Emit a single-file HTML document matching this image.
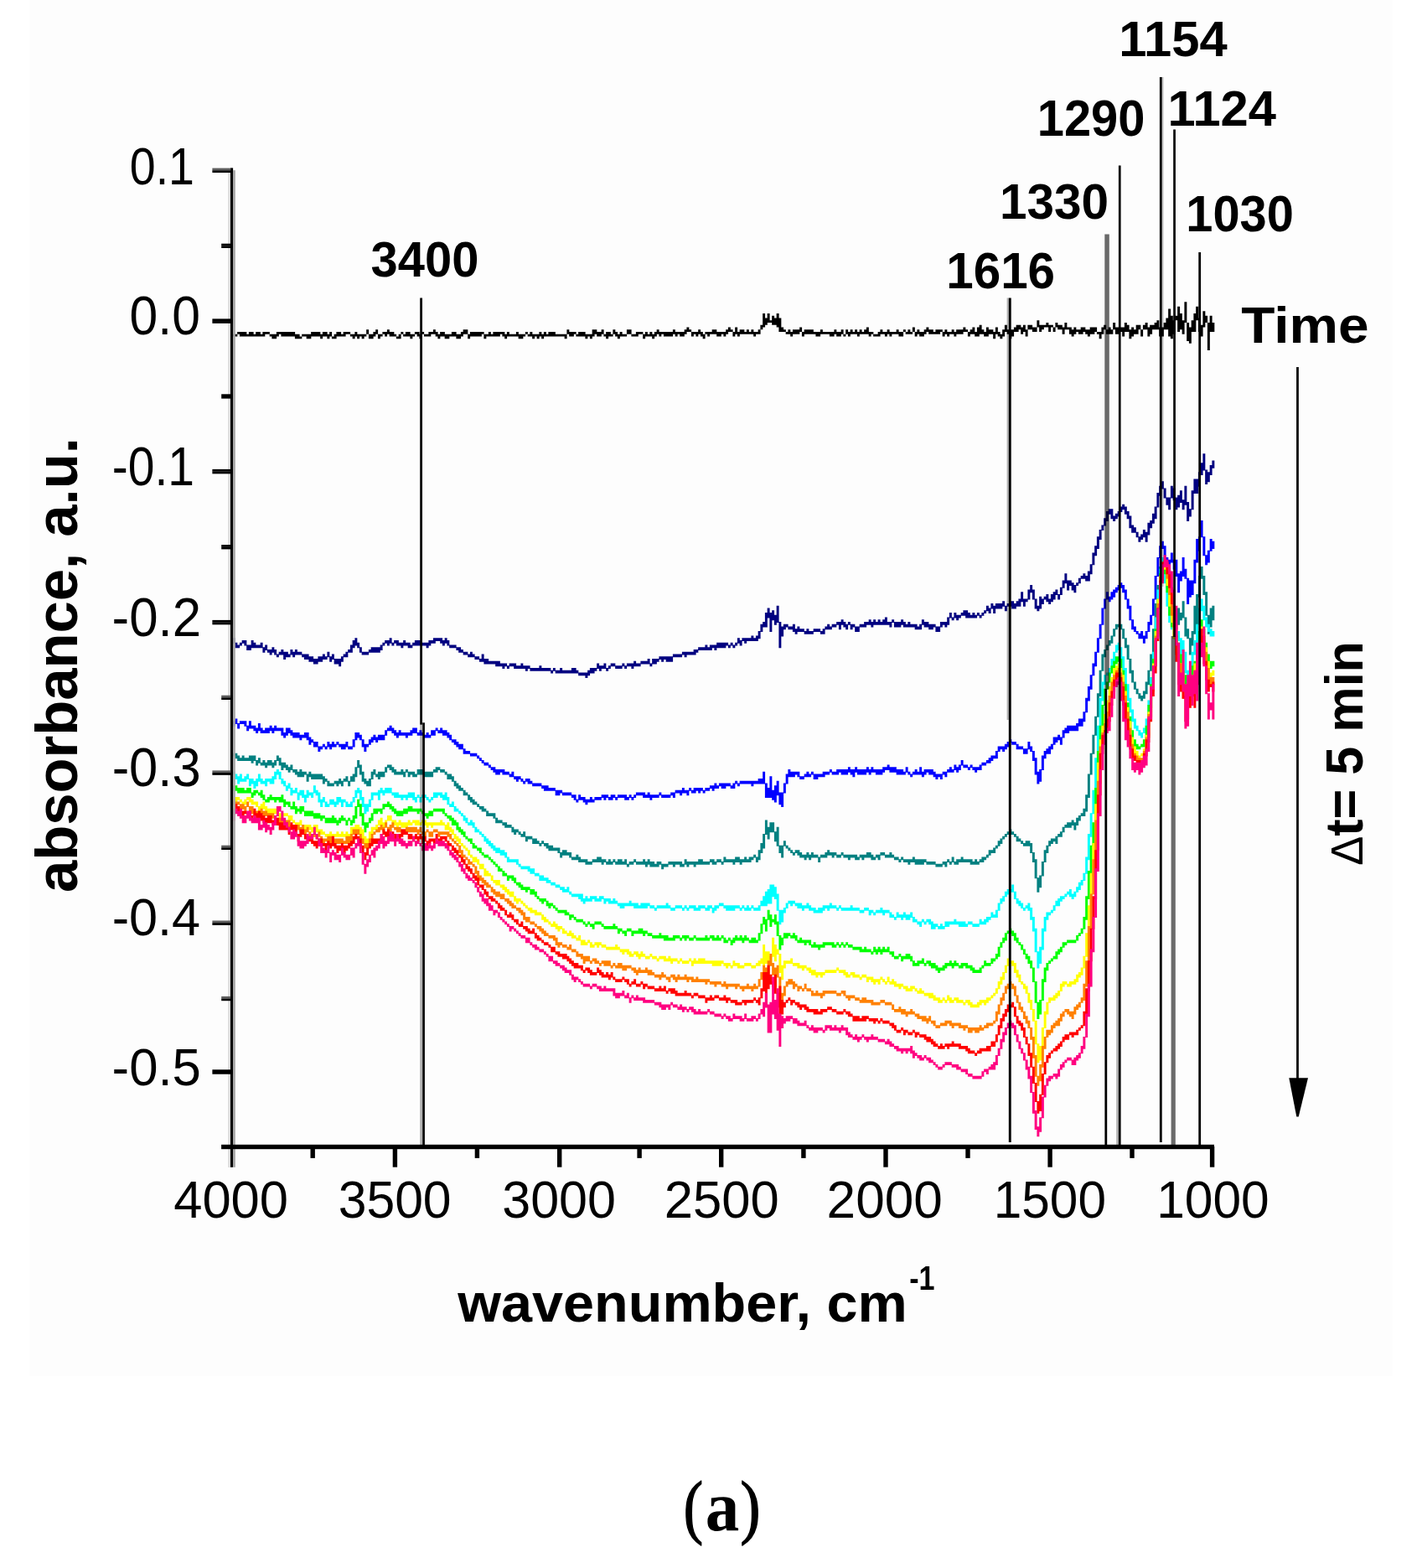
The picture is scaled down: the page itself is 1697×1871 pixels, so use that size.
<!DOCTYPE html>
<html lang="en"><head><meta charset="utf-8"><title>FTIR absorbance spectra</title>
<style>
html,body{margin:0;padding:0;background:#ffffff}
body{width:1697px;height:1871px;overflow:hidden}
svg{display:block}
text{font-family:"Liberation Sans",sans-serif;fill:#000}
.b{font-weight:700}
.ser{font-family:"Liberation Serif",serif}
.par{stroke:#000;stroke-width:1.5px;stroke-linejoin:round}
</style></head><body>
<svg width="1697" height="1871" viewBox="0 0 1697 1871">
<rect x="0" y="0" width="1697" height="1871" fill="#ffffff"/>
<rect x="35" y="0" width="1627" height="1642" fill="#fdfdfd"/>
<g>
<g transform="scale(2.75)" fill="none" stroke-width="1.07">
<path stroke="#000000" d="M100.5 144V146M101.5 145V146M102.5 145V146M103.5 144V145M104.5 144V146M105.5 144V146M106.5 144V146M107.5 145V146M108.5 144V146M109.5 144V146M110.5 145V146M111.5 144V146M112.5 144V146M113.5 145V146M114.5 144V146M115.5 144V145M116.5 144V145M117.5 145V146M118.5 145V147M119.5 145V147M120.5 144V146M121.5 144V145M122.5 144V146M123.5 144V146M124.5 144V146M125.5 144V146M126.5 144V146M127.5 144V146M128.5 145V147M129.5 145V147M130.5 146V147M131.5 145V146M132.5 145V146M133.5 145V147M134.5 145V147M135.5 144V146M136.5 144V146M137.5 144V146M138.5 144V146M139.5 145V147M140.5 144V146M141.5 144V146M142.5 145V147M143.5 144V146M144.5 146V147M145.5 145V147M146.5 144V146M147.5 144V146M148.5 145V146M149.5 144V146M150.5 144V145M151.5 144V145M152.5 145V146M153.5 145V147M154.5 144V146M155.5 145V147M156.5 145V146M157.5 145V147M158.5 145V146M159.5 143V145M160.5 145V147M161.5 145V147M162.5 144V146M163.5 143V145M164.5 145V147M165.5 145V146M166.5 144V145M167.5 144V146M168.5 143V145M169.5 144V146M170.5 144V146M171.5 145V146M172.5 146V147M173.5 145V147M174.5 144V145M175.5 145V146M176.5 144V146M177.5 144V146M178.5 145V147M179.5 145V146M180.5 144V145M181.5 144V146M182.5 145V147M183.5 144V145M184.5 145V146M185.5 145V146M186.5 144V146M187.5 144V145M188.5 143V145M189.5 144V146M190.5 145V147M191.5 144V146M192.5 144V146M193.5 145V147M194.5 145V147M195.5 145V146M196.5 144V146M197.5 144V146M198.5 145V147M199.5 145V147M200.5 144V146M201.5 143V145M202.5 143V145M203.5 145V147M204.5 144V146M205.5 144V146M206.5 144V146M207.5 144V146M208.5 144V146M209.5 144V145M210.5 145V147M211.5 145V146M212.5 144V146M213.5 145V146M214.5 144V146M215.5 144V146M216.5 144V146M217.5 144V145M218.5 144V146M219.5 145V147M220.5 144V146M221.5 145V146M222.5 145V146M223.5 145V146M224.5 144V146M225.5 145V147M226.5 145V147M227.5 145V146M228.5 144V145M229.5 145V146M230.5 144V146M231.5 145V147M232.5 145V146M233.5 145V147M234.5 144V146M235.5 145V147M236.5 144V146M237.5 145V146M238.5 144V146M239.5 144V146M240.5 144V146M241.5 145V146M242.5 145V146M243.5 145V146M244.5 145V146M245.5 145V147M246.5 143V145M247.5 144V146M248.5 144V146M249.5 144V145M250.5 145V146M251.5 144V146M252.5 144V146M253.5 144V146M254.5 145V147M255.5 145V146M256.5 145V147M257.5 143V146M258.5 143V145M259.5 144V146M260.5 144V146M261.5 143V145M262.5 145V146M263.5 144V147M264.5 144V146M265.5 145V146M266.5 143V145M267.5 144V146M268.5 145V147M269.5 144V146M270.5 145V146M271.5 145V146M272.5 143V145M273.5 143V145M274.5 145V146M275.5 145V146M276.5 144V146M277.5 144V145M278.5 144V145M279.5 145V147M280.5 144V146M281.5 145V146M282.5 144V146M283.5 145V147M284.5 144V146M285.5 143V145M286.5 144V146M287.5 144V145M288.5 144V146M289.5 144V146M290.5 144V146M291.5 144V146M292.5 143V145M293.5 144V146M294.5 144V145M295.5 144V146M296.5 144V146M297.5 143V145M298.5 142V144M299.5 143V144M300.5 144V146M301.5 144V145M302.5 144V146M303.5 143V145M304.5 144V146M305.5 145V147M306.5 144V145M307.5 144V146M308.5 144V145M309.5 143V145M310.5 143V145M311.5 144V146M312.5 144V146M313.5 144V145M314.5 144V146M315.5 143V145M316.5 142V144M317.5 143V144M318.5 144V146M319.5 142V145M320.5 144V146M321.5 143V145M322.5 143V145M323.5 144V145M324.5 143V145M325.5 144V145M326.5 143V145M327.5 144V146M328.5 144V145M329.5 143V145M330.5 141V143M331.5 136V142M332.5 138V141M333.5 136V140M334.5 139V140M335.5 137V141M336.5 138V141M337.5 136V142M338.5 138V144M339.5 142V144M340.5 143V144M341.5 144V145M342.5 143V145M343.5 144V146M344.5 143V145M345.5 143V145M346.5 143V145M347.5 142V144M348.5 144V146M349.5 143V145M350.5 143V145M351.5 143V145M352.5 143V145M353.5 144V145M354.5 144V146M355.5 144V146M356.5 143V145M357.5 144V145M358.5 144V145M359.5 144V145M360.5 144V146M361.5 144V146M362.5 143V145M363.5 144V146M364.5 144V146M365.5 143V145M366.5 145V146M367.5 143V145M368.5 144V146M369.5 143V145M370.5 144V145M371.5 143V145M372.5 144V146M373.5 143V145M374.5 144V145M375.5 143V145M376.5 142V145M377.5 144V146M378.5 144V145M379.5 145V146M380.5 145V146M381.5 144V146M382.5 143V145M383.5 144V145M384.5 144V146M385.5 143V145M386.5 144V146M387.5 144V145M388.5 144V145M389.5 143V145M390.5 144V146M391.5 144V146M392.5 143V144M393.5 144V145M394.5 143V145M395.5 144V145M396.5 142V144M397.5 144V146M398.5 143V145M399.5 144V146M400.5 144V146M401.5 143V145M402.5 142V144M403.5 143V145M404.5 143V145M405.5 144V145M406.5 143V145M407.5 143V145M408.5 143V144M409.5 144V146M410.5 143V145M411.5 144V146M412.5 144V145M413.5 143V145M414.5 144V146M415.5 143V145M416.5 143V145M417.5 143V145M418.5 142V144M419.5 143V144M420.5 144V146M421.5 143V145M422.5 142V145M423.5 144V146M424.5 142V146M425.5 141V145M426.5 143V145M427.5 144V146M428.5 142V146M429.5 143V145M430.5 143V145M431.5 144V147M432.5 142V145M433.5 144V146M434.5 145V147M435.5 143V146M436.5 141V144M437.5 143V145M438.5 143V147M439.5 143V146M440.5 142V144M441.5 141V144M442.5 141V143M443.5 142V145M444.5 141V144M445.5 143V146M446.5 141V143M447.5 141V143M448.5 142V144M449.5 142V144M450.5 139V142M451.5 141V144M452.5 141V143M453.5 141V142M454.5 140V142M455.5 141V144M456.5 141V142M457.5 142V144M458.5 140V142M459.5 141V143M460.5 141V143M461.5 142V145M462.5 140V143M463.5 142V143M464.5 142V145M465.5 143V146M466.5 142V145M467.5 143V144M468.5 143V145M469.5 142V145M470.5 142V144M471.5 143V145M472.5 143V146M473.5 142V145M474.5 142V145M475.5 142V144M476.5 144V145M477.5 144V147M478.5 142V145M479.5 141V143M480.5 143V145M481.5 142V145M482.5 143V145M483.5 140V143M484.5 142V145M485.5 142V145M486.5 142V144M487.5 142V146M488.5 140V144M489.5 141V144M490.5 143V147M491.5 142V146M492.5 143V145M493.5 141V145M494.5 141V143M495.5 143V146M496.5 141V143M497.5 140V143M498.5 142V146M499.5 141V145M500.5 141V143M501.5 140V143M502.5 139V143M503.5 142V146M504.5 142V146M505.5 140V143M506.5 138V143M507.5 134V146M508.5 137V147M509.5 139V145M510.5 137V139M511.5 133V144M512.5 136V143M513.5 139V145M514.5 131V140M515.5 140V148M516.5 142V149M517.5 139V144M518.5 136V144M519.5 133V139M520.5 138V144M521.5 141V146M522.5 135V142M523.5 137V140M524.5 140V152M525.5 137V144M526.5 140V144"/>
<path stroke="#000080" d="M100.5 278.86V280.14M101.5 276.86V279.14M102.5 278.86V281.14M103.5 279.86V281.14M104.5 278.86V280.14M105.5 277.86V279.14M106.5 277.86V280.14M107.5 279.86V282.14M108.5 279.86V282.14M109.5 277.86V281.14M110.5 278.86V281.14M111.5 279.86V281.14M112.5 279.86V281.14M113.5 278.86V281.14M114.5 280.86V283.14M115.5 279.86V282.14M116.5 281.86V283.14M117.5 281.86V284.14M118.5 280.86V283.14M119.5 281.86V284.14M120.5 283.86V285.14M121.5 282.86V284.14M122.5 281.86V284.14M123.5 282.86V286.14M124.5 282.86V285.14M125.5 283.86V285.14M126.5 281.86V284.14M127.5 282.86V285.14M128.5 281.86V284.14M129.5 282.86V284.14M130.5 282.86V284.14M131.5 283.86V285.14M132.5 283.86V286.14M133.5 283.86V286.14M134.5 284.86V287.14M135.5 284.86V287.14M136.5 285.86V288.14M137.5 285.86V288.14M138.5 284.86V287.14M139.5 284.86V287.14M140.5 283.86V286.14M141.5 284.86V286.14M142.5 282.86V285.14M143.5 284.86V287.14M144.5 283.86V286.14M145.5 285.86V288.14M146.5 285.86V288.14M147.5 285.86V289.14M148.5 284.86V287.14M149.5 283.86V285.14M150.5 282.86V285.14M151.5 281.86V283.14M152.5 279.86V283.14M153.5 277.86V281.14M154.5 276.86V280.14M155.5 278.86V281.14M156.5 280.86V283.14M157.5 282.86V284.14M158.5 282.86V284.14M159.5 282.86V284.14M160.5 281.86V283.14M161.5 280.86V283.14M162.5 280.86V283.14M163.5 280.86V283.14M164.5 280.86V283.14M165.5 279.86V282.14M166.5 278.86V280.14M167.5 277.86V279.14M168.5 277.86V280.14M169.5 276.86V279.14M170.5 278.86V280.14M171.5 277.86V279.14M172.5 277.86V280.14M173.5 278.86V280.14M174.5 278.86V281.14M175.5 277.86V280.14M176.5 278.86V280.14M177.5 278.86V281.14M178.5 279.86V281.14M179.5 278.86V280.14M180.5 277.86V280.14M181.5 277.86V280.14M182.5 277.86V280.14M183.5 278.86V280.14M184.5 278.86V280.14M185.5 278.86V281.14M186.5 277.86V280.14M187.5 277.86V279.14M188.5 276.86V279.14M189.5 276.86V278.14M190.5 276.86V278.14M191.5 276.86V279.14M192.5 277.86V280.14M193.5 276.86V279.14M194.5 277.86V280.14M195.5 279.86V281.14M196.5 279.86V281.14M197.5 279.86V281.14M198.5 280.86V282.14M199.5 280.86V283.14M200.5 281.86V283.14M201.5 282.86V284.14M202.5 282.86V284.14M203.5 283.86V285.14M204.5 282.86V285.14M205.5 283.86V285.14M206.5 284.86V286.14M207.5 284.86V286.14M208.5 285.86V287.14M209.5 283.86V287.14M210.5 285.86V288.14M211.5 285.86V288.14M212.5 286.86V288.14M213.5 286.86V288.14M214.5 286.86V288.14M215.5 286.86V289.14M216.5 286.86V289.14M217.5 287.86V289.14M218.5 287.86V290.14M219.5 287.86V289.14M220.5 288.86V290.14M221.5 287.86V289.14M222.5 287.86V289.14M223.5 287.86V290.14M224.5 288.86V290.14M225.5 288.86V290.14M226.5 287.86V290.14M227.5 288.86V290.14M228.5 288.86V291.14M229.5 288.86V290.14M230.5 289.86V291.14M231.5 289.86V291.14M232.5 289.86V291.14M233.5 289.86V291.14M234.5 288.86V291.14M235.5 289.86V291.14M236.5 289.86V291.14M237.5 289.86V291.14M238.5 289.86V291.14M239.5 290.86V292.14M240.5 289.86V291.14M241.5 290.86V292.14M242.5 290.86V292.14M243.5 289.86V292.14M244.5 290.86V292.14M245.5 290.86V292.14M246.5 290.86V292.14M247.5 290.86V292.14M248.5 289.86V292.14M249.5 289.86V292.14M250.5 290.86V292.14M251.5 291.86V293.14M252.5 291.86V293.14M253.5 291.86V293.14M254.5 291.86V294.14M255.5 290.86V293.14M256.5 289.86V292.14M257.5 289.86V292.14M258.5 289.86V291.14M259.5 287.86V290.14M260.5 288.86V291.14M261.5 288.86V290.14M262.5 287.86V290.14M263.5 289.86V291.14M264.5 288.86V290.14M265.5 287.86V289.14M266.5 287.86V289.14M267.5 288.86V290.14M268.5 288.86V290.14M269.5 288.86V290.14M270.5 287.86V289.14M271.5 288.86V290.14M272.5 287.86V289.14M273.5 287.86V289.14M274.5 287.86V290.14M275.5 286.86V289.14M276.5 287.86V289.14M277.5 287.86V289.14M278.5 286.86V288.14M279.5 286.86V288.14M280.5 286.86V288.14M281.5 285.86V288.14M282.5 287.86V289.14M283.5 285.86V288.14M284.5 285.86V288.14M285.5 285.86V287.14M286.5 284.86V286.14M287.5 284.86V287.14M288.5 284.86V286.14M289.5 284.86V287.14M290.5 284.86V287.14M291.5 284.86V287.14M292.5 283.86V285.14M293.5 283.86V285.14M294.5 283.86V285.14M295.5 283.86V285.14M296.5 282.86V284.14M297.5 282.86V285.14M298.5 282.86V284.14M299.5 282.86V284.14M300.5 282.86V284.14M301.5 281.86V284.14M302.5 281.86V283.14M303.5 280.86V282.14M304.5 280.86V282.14M305.5 280.86V282.14M306.5 279.86V282.14M307.5 280.86V282.14M308.5 279.86V282.14M309.5 279.86V281.14M310.5 279.86V282.14M311.5 278.86V281.14M312.5 278.86V281.14M313.5 278.86V281.14M314.5 278.86V281.14M315.5 278.86V280.14M316.5 279.86V281.14M317.5 278.86V280.14M318.5 279.86V281.14M319.5 278.86V280.14M320.5 276.86V279.14M321.5 277.86V280.14M322.5 276.86V278.14M323.5 276.86V279.14M324.5 276.86V278.14M325.5 276.86V278.14M326.5 275.86V278.14M327.5 276.86V278.14M328.5 275.86V278.14M329.5 273.86V277.14M330.5 270.86V274.14M331.5 269.86V272.14M332.5 265.86V272.14M333.5 263.86V268.14M334.5 265.86V274.14M335.5 264.86V269.14M336.5 266.86V271.14M337.5 262.86V270.14M338.5 269.86V281.14M339.5 271.86V276.14M340.5 270.86V273.14M341.5 270.86V272.14M342.5 271.86V273.14M343.5 271.86V273.14M344.5 270.86V274.14M345.5 272.86V275.14M346.5 271.86V274.14M347.5 272.86V274.14M348.5 272.86V274.14M349.5 273.86V275.14M350.5 272.86V275.14M351.5 273.86V275.14M352.5 273.86V275.14M353.5 272.86V274.14M354.5 272.86V274.14M355.5 272.86V274.14M356.5 273.86V275.14M357.5 272.86V275.14M358.5 271.86V273.14M359.5 270.86V273.14M360.5 271.86V273.14M361.5 270.86V272.14M362.5 270.86V272.14M363.5 269.86V271.14M364.5 269.86V273.14M365.5 268.86V271.14M366.5 269.86V272.14M367.5 270.86V273.14M368.5 269.86V271.14M369.5 270.86V273.14M370.5 270.86V272.14M371.5 271.86V274.14M372.5 271.86V274.14M373.5 270.86V272.14M374.5 270.86V272.14M375.5 269.86V272.14M376.5 269.86V271.14M377.5 268.86V271.14M378.5 269.86V272.14M379.5 268.86V271.14M380.5 269.86V271.14M381.5 268.86V271.14M382.5 269.86V271.14M383.5 268.86V271.14M384.5 267.86V271.14M385.5 269.86V271.14M386.5 269.86V272.14M387.5 268.86V270.14M388.5 269.86V272.14M389.5 269.86V272.14M390.5 269.86V272.14M391.5 268.86V271.14M392.5 269.86V272.14M393.5 270.86V272.14M394.5 269.86V272.14M395.5 270.86V272.14M396.5 270.86V272.14M397.5 270.86V273.14M398.5 271.86V273.14M399.5 270.86V273.14M400.5 268.86V271.14M401.5 269.86V272.14M402.5 269.86V272.14M403.5 270.86V273.14M404.5 270.86V273.14M405.5 270.86V272.14M406.5 271.86V274.14M407.5 271.86V274.14M408.5 269.86V272.14M409.5 269.86V271.14M410.5 269.86V272.14M411.5 267.86V271.14M412.5 265.86V268.14M413.5 267.86V269.14M414.5 265.86V268.14M415.5 266.86V269.14M416.5 266.86V268.14M417.5 265.86V267.14M418.5 264.86V267.14M419.5 264.86V268.14M420.5 265.86V268.14M421.5 266.86V268.14M422.5 265.86V268.14M423.5 266.86V268.14M424.5 265.86V267.14M425.5 266.86V268.14M426.5 265.86V267.14M427.5 264.86V266.14M428.5 262.86V265.14M429.5 263.86V266.14M430.5 261.86V264.14M431.5 262.86V266.14M432.5 261.86V264.14M433.5 261.86V264.14M434.5 261.86V264.14M435.5 260.86V263.14M436.5 262.86V265.14M437.5 261.86V263.14M438.5 260.86V263.14M439.5 260.86V264.14M440.5 261.86V264.14M441.5 260.86V263.14M442.5 259.86V263.14M443.5 256.86V261.14M444.5 259.86V263.14M445.5 259.86V261.14M446.5 255.86V260.14M447.5 253.86V257.14M448.5 255.86V260.14M449.5 259.86V264.14M450.5 262.86V265.14M451.5 258.86V264.14M452.5 259.86V262.14M453.5 258.86V260.14M454.5 257.86V261.14M455.5 259.86V262.14M456.5 257.86V261.14M457.5 256.86V260.14M458.5 255.86V258.14M459.5 257.86V260.14M460.5 254.86V258.14M461.5 251.86V255.14M462.5 248.86V253.14M463.5 251.86V256.14M464.5 251.86V254.14M465.5 252.86V256.14M466.5 253.86V257.14M467.5 252.86V254.14M468.5 250.86V253.14M469.5 249.86V251.14M470.5 248.86V251.14M471.5 249.86V252.14M472.5 247.86V252.14M473.5 244.86V249.14M474.5 239.86V245.14M475.5 236.86V241.14M476.5 232.86V238.14M477.5 229.86V234.14M478.5 227.86V230.14M479.5 224.86V228.14M480.5 221.86V226.14M481.5 220.86V223.14M482.5 220.86V225.14M483.5 223.86V226.14M484.5 222.86V225.14M485.5 221.86V224.14M486.5 219.86V222.14M487.5 218.86V221.14M488.5 219.86V223.14M489.5 221.86V225.14M490.5 223.86V229.14M491.5 227.86V231.14M492.5 228.86V231.14M493.5 230.86V233.14M494.5 232.86V235.14M495.5 231.86V234.14M496.5 229.86V233.14M497.5 230.86V235.14M498.5 226.86V232.14M499.5 225.86V229.14M500.5 222.86V227.14M501.5 219.86V225.14M502.5 213.86V220.14M503.5 210.86V215.14M504.5 208.86V212.14M505.5 211.86V216.14M506.5 215.86V219.14M507.5 215.86V221.14M508.5 210.86V216.14M509.5 211.86V217.14M510.5 215.86V221.14M511.5 214.86V220.14M512.5 212.86V218.14M513.5 216.86V221.14M514.5 210.86V219.14M515.5 217.86V226.14M516.5 220.86V224.14M517.5 212.86V221.14M518.5 207.86V214.14M519.5 207.86V214.14M520.5 204.86V211.14M521.5 200.86V206.14M522.5 196.86V204.14M523.5 203.86V210.14M524.5 204.86V209.14M525.5 201.86V206.14M526.5 199.86V203.14"/>
<path stroke="#0000ff" d="M100.5 312.86V314.14M101.5 312.86V315.14M102.5 311.86V314.14M103.5 313.86V316.14M104.5 312.86V314.14M105.5 312.86V314.14M106.5 312.86V315.14M107.5 314.86V317.14M108.5 312.86V316.14M109.5 314.86V316.14M110.5 314.86V317.14M111.5 315.86V318.14M112.5 313.86V317.14M113.5 315.86V318.14M114.5 316.86V318.14M115.5 315.86V318.14M116.5 315.86V318.14M117.5 314.86V317.14M118.5 315.86V318.14M119.5 314.86V317.14M120.5 315.86V317.14M121.5 315.86V317.14M122.5 315.86V319.14M123.5 317.86V320.14M124.5 315.86V319.14M125.5 315.86V318.14M126.5 316.86V319.14M127.5 317.86V320.14M128.5 317.86V320.14M129.5 317.86V320.14M130.5 318.86V321.14M131.5 318.86V320.14M132.5 317.86V320.14M133.5 317.86V321.14M134.5 319.86V323.14M135.5 320.86V322.14M136.5 321.86V324.14M137.5 321.86V324.14M138.5 323.86V326.14M139.5 323.86V325.14M140.5 322.86V324.14M141.5 323.86V325.14M142.5 321.86V324.14M143.5 322.86V325.14M144.5 321.86V324.14M145.5 322.86V324.14M146.5 321.86V323.14M147.5 322.86V324.14M148.5 322.86V325.14M149.5 322.86V325.14M150.5 321.86V324.14M151.5 323.86V325.14M152.5 323.86V325.14M153.5 320.86V324.14M154.5 317.86V321.14M155.5 317.86V320.14M156.5 318.86V321.14M157.5 320.86V324.14M158.5 322.86V326.14M159.5 322.86V324.14M160.5 320.86V323.14M161.5 319.86V322.14M162.5 318.86V321.14M163.5 319.86V322.14M164.5 318.86V321.14M165.5 318.86V321.14M166.5 318.86V321.14M167.5 316.86V319.14M168.5 315.86V317.14M169.5 314.86V317.14M170.5 315.86V318.14M171.5 316.86V319.14M172.5 317.86V320.14M173.5 316.86V319.14M174.5 317.86V319.14M175.5 317.86V319.14M176.5 317.86V320.14M177.5 317.86V319.14M178.5 316.86V319.14M179.5 315.86V318.14M180.5 315.86V318.14M181.5 317.86V319.14M182.5 316.86V319.14M183.5 317.86V319.14M184.5 318.86V320.14M185.5 317.86V320.14M186.5 318.86V320.14M187.5 316.86V319.14M188.5 316.86V319.14M189.5 315.86V317.14M190.5 316.86V318.14M191.5 315.86V318.14M192.5 316.86V319.14M193.5 316.86V319.14M194.5 317.86V320.14M195.5 318.86V321.14M196.5 320.86V322.14M197.5 320.86V323.14M198.5 321.86V324.14M199.5 322.86V325.14M200.5 322.86V325.14M201.5 324.86V327.14M202.5 325.86V327.14M203.5 325.86V327.14M204.5 326.86V328.14M205.5 326.86V328.14M206.5 326.86V328.14M207.5 327.86V329.14M208.5 328.86V330.14M209.5 329.86V331.14M210.5 330.86V332.14M211.5 330.86V332.14M212.5 331.86V333.14M213.5 332.86V334.14M214.5 332.86V335.14M215.5 333.86V336.14M216.5 333.86V336.14M217.5 333.86V335.14M218.5 333.86V336.14M219.5 334.86V336.14M220.5 334.86V336.14M221.5 335.86V337.14M222.5 334.86V337.14M223.5 336.86V338.14M224.5 336.86V339.14M225.5 336.86V338.14M226.5 337.86V339.14M227.5 338.86V340.14M228.5 337.86V339.14M229.5 337.86V340.14M230.5 338.86V340.14M231.5 339.86V341.14M232.5 339.86V341.14M233.5 339.86V341.14M234.5 339.86V341.14M235.5 340.86V342.14M236.5 340.86V343.14M237.5 340.86V343.14M238.5 341.86V343.14M239.5 341.86V343.14M240.5 341.86V343.14M241.5 342.86V345.14M242.5 342.86V345.14M243.5 342.86V344.14M244.5 343.86V345.14M245.5 343.86V345.14M246.5 343.86V345.14M247.5 343.86V345.14M248.5 344.86V346.14M249.5 344.86V347.14M250.5 346.86V348.14M251.5 344.86V347.14M252.5 345.86V347.14M253.5 345.86V348.14M254.5 346.86V349.14M255.5 346.86V348.14M256.5 345.86V348.14M257.5 346.86V348.14M258.5 345.86V347.14M259.5 345.86V347.14M260.5 345.86V347.14M261.5 344.86V346.14M262.5 344.86V347.14M263.5 344.86V346.14M264.5 345.86V347.14M265.5 344.86V347.14M266.5 344.86V346.14M267.5 345.86V347.14M268.5 344.86V346.14M269.5 344.86V346.14M270.5 344.86V346.14M271.5 344.86V347.14M272.5 345.86V347.14M273.5 344.86V346.14M274.5 345.86V347.14M275.5 344.86V346.14M276.5 343.86V345.14M277.5 343.86V345.14M278.5 343.86V345.14M279.5 343.86V346.14M280.5 344.86V346.14M281.5 343.86V346.14M282.5 344.86V347.14M283.5 344.86V346.14M284.5 344.86V346.14M285.5 344.86V346.14M286.5 343.86V345.14M287.5 344.86V346.14M288.5 344.86V346.14M289.5 344.86V346.14M290.5 344.86V346.14M291.5 343.86V345.14M292.5 343.86V346.14M293.5 342.86V344.14M294.5 342.86V344.14M295.5 342.86V345.14M296.5 341.86V344.14M297.5 342.86V344.14M298.5 342.86V345.14M299.5 341.86V343.14M300.5 342.86V344.14M301.5 341.86V344.14M302.5 341.86V343.14M303.5 341.86V344.14M304.5 341.86V343.14M305.5 342.86V344.14M306.5 341.86V343.14M307.5 341.86V343.14M308.5 340.86V342.14M309.5 340.86V343.14M310.5 339.86V342.14M311.5 340.86V342.14M312.5 339.86V341.14M313.5 339.86V342.14M314.5 339.86V342.14M315.5 339.86V341.14M316.5 339.86V341.14M317.5 340.86V342.14M318.5 339.86V342.14M319.5 338.86V340.14M320.5 339.86V341.14M321.5 338.86V340.14M322.5 338.86V340.14M323.5 338.86V340.14M324.5 338.86V340.14M325.5 338.86V340.14M326.5 338.86V341.14M327.5 338.86V340.14M328.5 338.86V340.14M329.5 337.86V340.14M330.5 337.86V340.14M331.5 334.86V340.14M332.5 339.86V346.14M333.5 341.86V346.14M334.5 336.86V346.14M335.5 342.86V347.14M336.5 340.86V348.14M337.5 338.86V345.14M338.5 343.86V349.14M339.5 343.86V350.14M340.5 339.86V344.14M341.5 335.86V340.14M342.5 333.86V337.14M343.5 334.86V337.14M344.5 334.86V337.14M345.5 334.86V336.14M346.5 334.86V337.14M347.5 336.86V338.14M348.5 336.86V338.14M349.5 335.86V337.14M350.5 334.86V337.14M351.5 335.86V337.14M352.5 334.86V336.14M353.5 335.86V338.14M354.5 335.86V338.14M355.5 335.86V337.14M356.5 335.86V337.14M357.5 334.86V337.14M358.5 334.86V336.14M359.5 334.86V336.14M360.5 333.86V335.14M361.5 334.86V336.14M362.5 334.86V336.14M363.5 333.86V336.14M364.5 333.86V335.14M365.5 333.86V336.14M366.5 333.86V336.14M367.5 333.86V336.14M368.5 332.86V335.14M369.5 333.86V336.14M370.5 333.86V337.14M371.5 332.86V335.14M372.5 333.86V336.14M373.5 333.86V336.14M374.5 333.86V336.14M375.5 333.86V336.14M376.5 332.86V335.14M377.5 333.86V336.14M378.5 332.86V335.14M379.5 333.86V335.14M380.5 333.86V336.14M381.5 333.86V336.14M382.5 333.86V336.14M383.5 332.86V335.14M384.5 332.86V334.14M385.5 331.86V334.14M386.5 332.86V335.14M387.5 332.86V335.14M388.5 332.86V335.14M389.5 333.86V336.14M390.5 333.86V336.14M391.5 333.86V336.14M392.5 334.86V336.14M393.5 332.86V335.14M394.5 334.86V336.14M395.5 335.86V337.14M396.5 334.86V336.14M397.5 333.86V336.14M398.5 334.86V336.14M399.5 332.86V336.14M400.5 334.86V337.14M401.5 333.86V336.14M402.5 333.86V335.14M403.5 333.86V336.14M404.5 333.86V336.14M405.5 334.86V337.14M406.5 335.86V338.14M407.5 335.86V337.14M408.5 335.86V338.14M409.5 334.86V336.14M410.5 334.86V337.14M411.5 333.86V335.14M412.5 332.86V335.14M413.5 333.86V335.14M414.5 331.86V334.14M415.5 332.86V335.14M416.5 331.86V334.14M417.5 329.86V332.14M418.5 331.86V333.14M419.5 331.86V333.14M420.5 332.86V334.14M421.5 331.86V333.14M422.5 332.86V334.14M423.5 332.86V335.14M424.5 332.86V334.14M425.5 331.86V334.14M426.5 330.86V332.14M427.5 330.86V332.14M428.5 329.86V331.14M429.5 328.86V331.14M430.5 327.86V330.14M431.5 327.86V329.14M432.5 325.86V329.14M433.5 323.86V326.14M434.5 323.86V325.14M435.5 323.86V326.14M436.5 322.86V325.14M437.5 321.86V324.14M438.5 320.86V322.14M439.5 321.86V323.14M440.5 321.86V323.14M441.5 322.86V325.14M442.5 323.86V325.14M443.5 323.86V325.14M444.5 324.86V327.14M445.5 324.86V327.14M446.5 321.86V325.14M447.5 323.86V326.14M448.5 325.86V330.14M449.5 328.86V336.14M450.5 334.86V340.14M451.5 333.86V339.14M452.5 327.86V334.14M453.5 325.86V329.14M454.5 324.86V327.14M455.5 323.86V327.14M456.5 322.86V325.14M457.5 319.86V323.14M458.5 319.86V322.14M459.5 318.86V321.14M460.5 319.86V323.14M461.5 316.86V320.14M462.5 315.86V318.14M463.5 314.86V318.14M464.5 314.86V317.14M465.5 314.86V317.14M466.5 314.86V317.14M467.5 313.86V317.14M468.5 311.86V315.14M469.5 311.86V315.14M470.5 308.86V313.14M471.5 302.86V309.14M472.5 297.86V304.14M473.5 292.86V299.14M474.5 287.86V293.14M475.5 282.86V289.14M476.5 276.86V283.14M477.5 270.86V277.14M478.5 263.86V271.14M479.5 259.86V264.14M480.5 256.86V260.14M481.5 258.86V261.14M482.5 256.86V260.14M483.5 255.86V259.14M484.5 254.86V257.14M485.5 253.86V256.14M486.5 252.86V255.14M487.5 253.86V257.14M488.5 255.86V260.14M489.5 259.86V264.14M490.5 262.86V269.14M491.5 268.86V273.14M492.5 271.86V274.14M493.5 273.86V275.14M494.5 274.86V277.14M495.5 273.86V277.14M496.5 275.86V279.14M497.5 273.86V277.14M498.5 269.86V274.14M499.5 266.86V271.14M500.5 259.86V267.14M501.5 249.86V260.14M502.5 241.86V250.14M503.5 236.86V242.14M504.5 234.86V238.14M505.5 236.86V243.14M506.5 241.86V246.14M507.5 242.86V248.14M508.5 239.86V244.14M509.5 242.86V247.14M510.5 242.86V250.14M511.5 248.86V257.14M512.5 247.86V252.14M513.5 241.86V250.14M514.5 246.86V251.14M515.5 250.86V262.14M516.5 251.86V259.14M517.5 251.86V258.14M518.5 242.86V253.14M519.5 233.86V244.14M520.5 232.86V239.14M521.5 225.86V233.14M522.5 232.86V241.14M523.5 240.86V245.14M524.5 238.86V244.14M525.5 233.86V239.14M526.5 234.86V238.14"/>
<path stroke="#008080" d="M100.5 326.86V328.14M101.5 326.86V328.14M102.5 326.86V329.14M103.5 327.86V330.14M104.5 328.86V330.14M105.5 327.86V330.14M106.5 328.86V330.14M107.5 328.86V330.14M108.5 327.86V330.14M109.5 327.86V331.14M110.5 327.86V330.14M111.5 329.86V332.14M112.5 328.86V331.14M113.5 330.86V332.14M114.5 329.86V332.14M115.5 330.86V333.14M116.5 329.86V332.14M117.5 329.86V332.14M118.5 330.86V333.14M119.5 329.86V332.14M120.5 327.86V330.14M121.5 328.86V332.14M122.5 330.86V334.14M123.5 330.86V333.14M124.5 331.86V334.14M125.5 332.86V335.14M126.5 331.86V334.14M127.5 333.86V335.14M128.5 333.86V336.14M129.5 334.86V337.14M130.5 333.86V337.14M131.5 334.86V337.14M132.5 334.86V336.14M133.5 335.86V339.14M134.5 334.86V337.14M135.5 335.86V338.14M136.5 335.86V338.14M137.5 335.86V338.14M138.5 335.86V338.14M139.5 335.86V338.14M140.5 336.86V340.14M141.5 337.86V339.14M142.5 338.86V341.14M143.5 339.86V341.14M144.5 339.86V341.14M145.5 338.86V340.14M146.5 338.86V341.14M147.5 337.86V340.14M148.5 338.86V341.14M149.5 337.86V339.14M150.5 336.86V339.14M151.5 338.86V341.14M152.5 336.86V339.14M153.5 335.86V339.14M154.5 332.86V337.14M155.5 329.86V333.14M156.5 331.86V336.14M157.5 334.86V339.14M158.5 337.86V340.14M159.5 338.86V341.14M160.5 337.86V341.14M161.5 334.86V338.14M162.5 333.86V336.14M163.5 335.86V337.14M164.5 334.86V338.14M165.5 334.86V337.14M166.5 334.86V337.14M167.5 332.86V335.14M168.5 331.86V333.14M169.5 331.86V334.14M170.5 332.86V335.14M171.5 333.86V336.14M172.5 334.86V336.14M173.5 334.86V336.14M174.5 333.86V336.14M175.5 334.86V337.14M176.5 333.86V335.14M177.5 334.86V337.14M178.5 334.86V336.14M179.5 334.86V337.14M180.5 335.86V337.14M181.5 333.86V336.14M182.5 333.86V336.14M183.5 333.86V336.14M184.5 334.86V337.14M185.5 334.86V337.14M186.5 334.86V337.14M187.5 334.86V337.14M188.5 333.86V335.14M189.5 332.86V335.14M190.5 332.86V334.14M191.5 333.86V335.14M192.5 333.86V335.14M193.5 334.86V336.14M194.5 335.86V338.14M195.5 335.86V338.14M196.5 336.86V339.14M197.5 338.86V341.14M198.5 339.86V342.14M199.5 340.86V343.14M200.5 341.86V343.14M201.5 342.86V345.14M202.5 343.86V345.14M203.5 344.86V347.14M204.5 345.86V348.14M205.5 346.86V349.14M206.5 347.86V349.14M207.5 348.86V350.14M208.5 349.86V351.14M209.5 349.86V352.14M210.5 350.86V352.14M211.5 351.86V354.14M212.5 352.86V354.14M213.5 352.86V354.14M214.5 352.86V355.14M215.5 354.86V357.14M216.5 355.86V357.14M217.5 355.86V357.14M218.5 356.86V358.14M219.5 356.86V359.14M220.5 357.86V359.14M221.5 357.86V359.14M222.5 358.86V361.14M223.5 359.86V362.14M224.5 359.86V361.14M225.5 360.86V362.14M226.5 361.86V363.14M227.5 360.86V363.14M228.5 362.86V365.14M229.5 362.86V364.14M230.5 362.86V364.14M231.5 363.86V366.14M232.5 363.86V366.14M233.5 364.86V366.14M234.5 365.86V367.14M235.5 364.86V366.14M236.5 365.86V367.14M237.5 365.86V368.14M238.5 366.86V369.14M239.5 366.86V369.14M240.5 367.86V369.14M241.5 367.86V369.14M242.5 367.86V370.14M243.5 369.86V372.14M244.5 368.86V371.14M245.5 368.86V371.14M246.5 369.86V371.14M247.5 369.86V372.14M248.5 371.86V373.14M249.5 371.86V373.14M250.5 370.86V373.14M251.5 371.86V374.14M252.5 372.86V374.14M253.5 372.86V374.14M254.5 372.86V375.14M255.5 373.86V375.14M256.5 373.86V375.14M257.5 372.86V374.14M258.5 372.86V374.14M259.5 371.86V374.14M260.5 371.86V374.14M261.5 372.86V375.14M262.5 372.86V374.14M263.5 373.86V375.14M264.5 372.86V375.14M265.5 373.86V375.14M266.5 372.86V374.14M267.5 373.86V375.14M268.5 372.86V375.14M269.5 372.86V375.14M270.5 373.86V375.14M271.5 372.86V375.14M272.5 374.86V376.14M273.5 373.86V375.14M274.5 373.86V375.14M275.5 372.86V374.14M276.5 373.86V375.14M277.5 373.86V375.14M278.5 373.86V375.14M279.5 372.86V375.14M280.5 373.86V376.14M281.5 372.86V375.14M282.5 373.86V376.14M283.5 373.86V376.14M284.5 374.86V376.14M285.5 373.86V376.14M286.5 373.86V375.14M287.5 374.86V377.14M288.5 374.86V376.14M289.5 374.86V376.14M290.5 373.86V375.14M291.5 373.86V375.14M292.5 373.86V376.14M293.5 373.86V375.14M294.5 373.86V375.14M295.5 373.86V376.14M296.5 374.86V376.14M297.5 372.86V375.14M298.5 373.86V376.14M299.5 373.86V375.14M300.5 373.86V375.14M301.5 373.86V376.14M302.5 373.86V375.14M303.5 372.86V375.14M304.5 372.86V375.14M305.5 373.86V375.14M306.5 373.86V375.14M307.5 373.86V375.14M308.5 372.86V374.14M309.5 372.86V375.14M310.5 373.86V375.14M311.5 372.86V374.14M312.5 372.86V374.14M313.5 373.86V375.14M314.5 371.86V374.14M315.5 372.86V374.14M316.5 372.86V374.14M317.5 372.86V374.14M318.5 372.86V375.14M319.5 371.86V374.14M320.5 371.86V374.14M321.5 372.86V375.14M322.5 372.86V374.14M323.5 371.86V374.14M324.5 372.86V374.14M325.5 371.86V374.14M326.5 371.86V373.14M327.5 370.86V372.14M328.5 371.86V374.14M329.5 368.86V373.14M330.5 365.86V370.14M331.5 361.86V368.14M332.5 355.86V362.14M333.5 358.86V364.14M334.5 356.86V361.14M335.5 356.86V361.14M336.5 360.86V365.14M337.5 358.86V367.14M338.5 366.86V370.14M339.5 366.86V372.14M340.5 364.86V367.14M341.5 366.86V368.14M342.5 367.86V369.14M343.5 368.86V370.14M344.5 369.86V371.14M345.5 368.86V370.14M346.5 368.86V371.14M347.5 369.86V372.14M348.5 370.86V372.14M349.5 370.86V373.14M350.5 369.86V372.14M351.5 370.86V373.14M352.5 369.86V372.14M353.5 370.86V372.14M354.5 370.86V372.14M355.5 371.86V374.14M356.5 370.86V372.14M357.5 370.86V372.14M358.5 369.86V372.14M359.5 368.86V371.14M360.5 369.86V371.14M361.5 369.86V372.14M362.5 369.86V371.14M363.5 370.86V372.14M364.5 370.86V372.14M365.5 369.86V371.14M366.5 370.86V372.14M367.5 370.86V372.14M368.5 370.86V373.14M369.5 370.86V372.14M370.5 370.86V372.14M371.5 370.86V373.14M372.5 371.86V373.14M373.5 370.86V372.14M374.5 370.86V373.14M375.5 370.86V372.14M376.5 369.86V372.14M377.5 369.86V372.14M378.5 370.86V373.14M379.5 371.86V373.14M380.5 370.86V372.14M381.5 370.86V373.14M382.5 369.86V371.14M383.5 369.86V371.14M384.5 370.86V372.14M385.5 370.86V372.14M386.5 369.86V372.14M387.5 370.86V372.14M388.5 371.86V373.14M389.5 371.86V373.14M390.5 372.86V374.14M391.5 371.86V373.14M392.5 372.86V374.14M393.5 372.86V374.14M394.5 372.86V375.14M395.5 372.86V374.14M396.5 371.86V374.14M397.5 372.86V375.14M398.5 372.86V375.14M399.5 372.86V375.14M400.5 372.86V375.14M401.5 372.86V374.14M402.5 373.86V375.14M403.5 373.86V375.14M404.5 373.86V375.14M405.5 373.86V375.14M406.5 374.86V376.14M407.5 374.86V376.14M408.5 374.86V376.14M409.5 373.86V375.14M410.5 373.86V376.14M411.5 372.86V374.14M412.5 373.86V375.14M413.5 371.86V374.14M414.5 373.86V375.14M415.5 372.86V375.14M416.5 372.86V374.14M417.5 371.86V374.14M418.5 372.86V374.14M419.5 372.86V374.14M420.5 372.86V374.14M421.5 372.86V375.14M422.5 373.86V375.14M423.5 372.86V375.14M424.5 373.86V375.14M425.5 372.86V374.14M426.5 371.86V374.14M427.5 371.86V373.14M428.5 370.86V372.14M429.5 368.86V371.14M430.5 368.86V370.14M431.5 367.86V370.14M432.5 366.86V368.14M433.5 364.86V367.14M434.5 363.86V366.14M435.5 362.86V364.14M436.5 361.86V363.14M437.5 360.86V362.14M438.5 359.86V362.14M439.5 360.86V362.14M440.5 361.86V363.14M441.5 362.86V365.14M442.5 363.86V365.14M443.5 364.86V366.14M444.5 365.86V367.14M445.5 364.86V367.14M446.5 364.86V367.14M447.5 365.86V370.14M448.5 369.86V374.14M449.5 372.86V381.14M450.5 380.86V387.14M451.5 379.86V385.14M452.5 373.86V380.14M453.5 368.86V374.14M454.5 366.86V370.14M455.5 364.86V367.14M456.5 363.86V366.14M457.5 363.86V365.14M458.5 362.86V366.14M459.5 361.86V363.14M460.5 360.86V363.14M461.5 358.86V361.14M462.5 357.86V359.14M463.5 356.86V359.14M464.5 356.86V359.14M465.5 355.86V358.14M466.5 356.86V360.14M467.5 354.86V358.14M468.5 353.86V356.14M469.5 352.86V354.14M470.5 350.86V354.14M471.5 344.86V352.14M472.5 335.86V346.14M473.5 326.86V336.14M474.5 318.86V327.14M475.5 310.86V319.14M476.5 300.86V311.14M477.5 290.86V302.14M478.5 283.86V291.14M479.5 281.86V285.14M480.5 279.86V282.14M481.5 277.86V280.14M482.5 275.86V279.14M483.5 272.86V276.14M484.5 270.86V273.14M485.5 270.86V272.14M486.5 270.86V273.14M487.5 272.86V277.14M488.5 276.86V281.14M489.5 279.86V286.14M490.5 285.86V292.14M491.5 290.86V296.14M492.5 295.86V299.14M493.5 298.86V301.14M494.5 300.86V303.14M495.5 301.86V304.14M496.5 299.86V303.14M497.5 295.86V301.14M498.5 290.86V297.14M499.5 283.86V291.14M500.5 272.86V284.14M501.5 261.86V274.14M502.5 253.86V263.14M503.5 245.86V254.14M504.5 242.86V247.14M505.5 244.86V250.14M506.5 249.86V255.14M507.5 254.86V260.14M508.5 258.86V263.14M509.5 261.86V265.14M510.5 263.86V273.14M511.5 263.86V271.14M512.5 265.86V269.14M513.5 260.86V268.14M514.5 267.86V276.14M515.5 272.86V277.14M516.5 276.86V284.14M517.5 273.86V280.14M518.5 262.86V275.14M519.5 257.86V271.14M520.5 249.86V259.14M521.5 245.86V251.14M522.5 249.86V258.14M523.5 256.86V267.14M524.5 266.86V275.14M525.5 263.86V272.14M526.5 262.86V269.14"/>
<path stroke="#00ffff" d="M100.5 332.86V336.14M101.5 334.86V336.14M102.5 335.86V338.14M103.5 336.86V340.14M104.5 335.86V339.14M105.5 337.86V339.14M106.5 336.86V339.14M107.5 335.86V338.14M108.5 337.86V341.14M109.5 337.86V340.14M110.5 338.86V342.14M111.5 337.86V341.14M112.5 335.86V339.14M113.5 337.86V340.14M114.5 338.86V340.14M115.5 337.86V341.14M116.5 337.86V339.14M117.5 337.86V340.14M118.5 336.86V340.14M119.5 334.86V338.14M120.5 333.86V336.14M121.5 334.86V338.14M122.5 337.86V340.14M123.5 338.86V341.14M124.5 340.86V343.14M125.5 339.86V342.14M126.5 341.86V345.14M127.5 342.86V344.14M128.5 341.86V344.14M129.5 343.86V347.14M130.5 342.86V345.14M131.5 342.86V346.14M132.5 344.86V348.14M133.5 342.86V346.14M134.5 343.86V345.14M135.5 343.86V346.14M136.5 340.86V344.14M137.5 342.86V345.14M138.5 343.86V348.14M139.5 346.86V350.14M140.5 345.86V348.14M141.5 347.86V350.14M142.5 348.86V350.14M143.5 346.86V349.14M144.5 346.86V349.14M145.5 347.86V350.14M146.5 345.86V349.14M147.5 345.86V348.14M148.5 346.86V350.14M149.5 346.86V348.14M150.5 347.86V350.14M151.5 348.86V350.14M152.5 347.86V350.14M153.5 345.86V348.14M154.5 342.86V346.14M155.5 341.86V344.14M156.5 342.86V347.14M157.5 345.86V350.14M158.5 348.86V353.14M159.5 348.86V352.14M160.5 346.86V350.14M161.5 343.86V347.14M162.5 343.86V345.14M163.5 343.86V345.14M164.5 342.86V347.14M165.5 341.86V344.14M166.5 342.86V345.14M167.5 341.86V344.14M168.5 341.86V344.14M169.5 341.86V344.14M170.5 343.86V345.14M171.5 343.86V346.14M172.5 343.86V346.14M173.5 344.86V346.14M174.5 344.86V347.14M175.5 344.86V346.14M176.5 344.86V347.14M177.5 343.86V346.14M178.5 343.86V346.14M179.5 343.86V347.14M180.5 345.86V348.14M181.5 344.86V346.14M182.5 345.86V348.14M183.5 344.86V346.14M184.5 344.86V346.14M185.5 345.86V347.14M186.5 346.86V348.14M187.5 345.86V347.14M188.5 343.86V346.14M189.5 343.86V346.14M190.5 343.86V345.14M191.5 343.86V346.14M192.5 344.86V347.14M193.5 343.86V347.14M194.5 345.86V349.14M195.5 348.86V350.14M196.5 347.86V350.14M197.5 349.86V352.14M198.5 350.86V352.14M199.5 351.86V353.14M200.5 352.86V354.14M201.5 353.86V356.14M202.5 354.86V357.14M203.5 356.86V358.14M204.5 355.86V358.14M205.5 356.86V359.14M206.5 358.86V361.14M207.5 359.86V361.14M208.5 360.86V362.14M209.5 361.86V363.14M210.5 362.86V365.14M211.5 363.86V366.14M212.5 364.86V367.14M213.5 365.86V368.14M214.5 366.86V369.14M215.5 367.86V370.14M216.5 367.86V370.14M217.5 368.86V371.14M218.5 368.86V371.14M219.5 369.86V372.14M220.5 371.86V374.14M221.5 372.86V374.14M222.5 372.86V374.14M223.5 372.86V374.14M224.5 372.86V375.14M225.5 374.86V376.14M226.5 375.86V377.14M227.5 375.86V377.14M228.5 375.86V377.14M229.5 375.86V378.14M230.5 376.86V379.14M231.5 376.86V379.14M232.5 378.86V380.14M233.5 378.86V380.14M234.5 379.86V382.14M235.5 379.86V382.14M236.5 380.86V382.14M237.5 380.86V383.14M238.5 381.86V383.14M239.5 382.86V384.14M240.5 382.86V384.14M241.5 383.86V385.14M242.5 383.86V385.14M243.5 384.86V386.14M244.5 384.86V387.14M245.5 385.86V387.14M246.5 384.86V387.14M247.5 386.86V388.14M248.5 387.86V389.14M249.5 387.86V389.14M250.5 387.86V389.14M251.5 387.86V390.14M252.5 387.86V391.14M253.5 389.86V392.14M254.5 388.86V391.14M255.5 389.86V391.14M256.5 388.86V391.14M257.5 388.86V390.14M258.5 388.86V391.14M259.5 389.86V391.14M260.5 388.86V391.14M261.5 388.86V390.14M262.5 389.86V392.14M263.5 389.86V391.14M264.5 389.86V392.14M265.5 390.86V392.14M266.5 389.86V392.14M267.5 390.86V392.14M268.5 391.86V393.14M269.5 391.86V394.14M270.5 391.86V394.14M271.5 391.86V393.14M272.5 391.86V393.14M273.5 390.86V393.14M274.5 391.86V393.14M275.5 391.86V394.14M276.5 391.86V394.14M277.5 392.86V394.14M278.5 391.86V394.14M279.5 391.86V394.14M280.5 391.86V394.14M281.5 391.86V393.14M282.5 392.86V394.14M283.5 392.86V394.14M284.5 393.86V395.14M285.5 392.86V394.14M286.5 392.86V394.14M287.5 392.86V394.14M288.5 392.86V394.14M289.5 391.86V394.14M290.5 392.86V394.14M291.5 393.86V395.14M292.5 393.86V395.14M293.5 392.86V394.14M294.5 392.86V394.14M295.5 392.86V394.14M296.5 393.86V395.14M297.5 392.86V394.14M298.5 393.86V395.14M299.5 392.86V394.14M300.5 392.86V394.14M301.5 392.86V395.14M302.5 393.86V395.14M303.5 392.86V395.14M304.5 392.86V394.14M305.5 392.86V394.14M306.5 393.86V395.14M307.5 392.86V395.14M308.5 392.86V394.14M309.5 393.86V396.14M310.5 392.86V395.14M311.5 392.86V394.14M312.5 391.86V393.14M313.5 391.86V393.14M314.5 392.86V394.14M315.5 392.86V395.14M316.5 392.86V395.14M317.5 392.86V395.14M318.5 392.86V395.14M319.5 392.86V394.14M320.5 392.86V394.14M321.5 393.86V395.14M322.5 392.86V394.14M323.5 393.86V395.14M324.5 392.86V395.14M325.5 393.86V395.14M326.5 392.86V394.14M327.5 393.86V395.14M328.5 393.86V395.14M329.5 392.86V395.14M330.5 390.86V393.14M331.5 388.86V393.14M332.5 386.86V393.14M333.5 385.86V392.14M334.5 383.86V392.14M335.5 383.86V389.14M336.5 384.86V390.14M337.5 387.86V395.14M338.5 394.86V401.14M339.5 394.86V400.14M340.5 393.86V396.14M341.5 391.86V394.14M342.5 390.86V392.14M343.5 390.86V393.14M344.5 390.86V392.14M345.5 391.86V393.14M346.5 391.86V394.14M347.5 391.86V394.14M348.5 392.86V395.14M349.5 392.86V394.14M350.5 391.86V394.14M351.5 392.86V395.14M352.5 393.86V395.14M353.5 393.86V396.14M354.5 394.86V396.14M355.5 393.86V396.14M356.5 393.86V396.14M357.5 392.86V395.14M358.5 392.86V394.14M359.5 392.86V395.14M360.5 391.86V394.14M361.5 392.86V394.14M362.5 392.86V394.14M363.5 393.86V395.14M364.5 392.86V394.14M365.5 393.86V395.14M366.5 393.86V395.14M367.5 393.86V395.14M368.5 393.86V395.14M369.5 392.86V395.14M370.5 393.86V395.14M371.5 393.86V395.14M372.5 393.86V395.14M373.5 394.86V396.14M374.5 394.86V396.14M375.5 393.86V395.14M376.5 393.86V395.14M377.5 394.86V397.14M378.5 394.86V396.14M379.5 395.86V397.14M380.5 394.86V396.14M381.5 394.86V396.14M382.5 393.86V396.14M383.5 394.86V397.14M384.5 394.86V396.14M385.5 394.86V396.14M386.5 395.86V398.14M387.5 396.86V398.14M388.5 397.86V399.14M389.5 395.86V398.14M390.5 396.86V398.14M391.5 396.86V399.14M392.5 395.86V398.14M393.5 396.86V399.14M394.5 396.86V399.14M395.5 395.86V398.14M396.5 397.86V400.14M397.5 398.86V400.14M398.5 399.86V401.14M399.5 399.86V402.14M400.5 398.86V400.14M401.5 399.86V401.14M402.5 398.86V400.14M403.5 398.86V401.14M404.5 399.86V403.14M405.5 400.86V403.14M406.5 400.86V402.14M407.5 401.86V403.14M408.5 400.86V403.14M409.5 401.86V403.14M410.5 399.86V402.14M411.5 399.86V402.14M412.5 399.86V401.14M413.5 399.86V401.14M414.5 398.86V401.14M415.5 399.86V401.14M416.5 399.86V402.14M417.5 399.86V402.14M418.5 399.86V402.14M419.5 400.86V402.14M420.5 399.86V401.14M421.5 399.86V401.14M422.5 400.86V402.14M423.5 400.86V402.14M424.5 400.86V402.14M425.5 398.86V401.14M426.5 399.86V401.14M427.5 398.86V401.14M428.5 397.86V400.14M429.5 397.86V399.14M430.5 395.86V398.14M431.5 396.86V398.14M432.5 394.86V398.14M433.5 391.86V395.14M434.5 389.86V392.14M435.5 388.86V391.14M436.5 386.86V389.14M437.5 385.86V388.14M438.5 385.86V387.14M439.5 383.86V387.14M440.5 386.86V390.14M441.5 389.86V392.14M442.5 390.86V393.14M443.5 391.86V394.14M444.5 393.86V395.14M445.5 392.86V394.14M446.5 391.86V395.14M447.5 393.86V399.14M448.5 397.86V404.14M449.5 402.86V413.14M450.5 412.86V420.14M451.5 410.86V418.14M452.5 402.86V412.14M453.5 397.86V404.14M454.5 395.86V399.14M455.5 395.86V397.14M456.5 394.86V396.14M457.5 392.86V395.14M458.5 390.86V393.14M459.5 389.86V393.14M460.5 388.86V391.14M461.5 388.86V390.14M462.5 387.86V389.14M463.5 386.86V388.14M464.5 385.86V389.14M465.5 387.86V390.14M466.5 386.86V389.14M467.5 384.86V387.14M468.5 382.86V386.14M469.5 381.86V384.14M470.5 378.86V382.14M471.5 371.86V379.14M472.5 361.86V373.14M473.5 352.86V363.14M474.5 342.86V353.14M475.5 328.86V343.14M476.5 314.86V330.14M477.5 302.86V316.14M478.5 295.86V304.14M479.5 292.86V297.14M480.5 291.86V293.14M481.5 289.86V293.14M482.5 285.86V290.14M483.5 282.86V287.14M484.5 279.86V283.14M485.5 278.86V282.14M486.5 280.86V286.14M487.5 284.86V291.14M488.5 289.86V297.14M489.5 296.86V304.14M490.5 302.86V309.14M491.5 307.86V313.14M492.5 311.86V316.14M493.5 314.86V317.14M494.5 316.86V319.14M495.5 317.86V320.14M496.5 315.86V318.14M497.5 311.86V317.14M498.5 303.86V312.14M499.5 293.86V304.14M500.5 282.86V295.14M501.5 267.86V284.14M502.5 255.86V269.14M503.5 246.86V256.14M504.5 241.86V248.14M505.5 244.86V253.14M506.5 251.86V263.14M507.5 261.86V270.14M508.5 268.86V273.14M509.5 271.86V275.14M510.5 274.86V277.14M511.5 273.86V278.14M512.5 276.86V284.14M513.5 277.86V283.14M514.5 282.86V292.14M515.5 290.86V297.14M516.5 288.86V296.14M517.5 282.86V289.14M518.5 277.86V284.14M519.5 270.86V279.14M520.5 263.86V271.14M521.5 259.86V265.14M522.5 262.86V269.14M523.5 267.86V272.14M524.5 270.86V274.14M525.5 272.86V276.14M526.5 273.86V276.14"/>
<path stroke="#00ff00" d="M100.5 339.86V342.14M101.5 340.86V343.14M102.5 340.86V343.14M103.5 341.86V344.14M104.5 341.86V344.14M105.5 341.86V344.14M106.5 342.86V344.14M107.5 341.86V344.14M108.5 341.86V344.14M109.5 343.86V346.14M110.5 342.86V345.14M111.5 342.86V344.14M112.5 343.86V345.14M113.5 342.86V346.14M114.5 344.86V347.14M115.5 346.86V348.14M116.5 345.86V348.14M117.5 344.86V347.14M118.5 345.86V347.14M119.5 345.86V348.14M120.5 345.86V347.14M121.5 345.86V348.14M122.5 344.86V348.14M123.5 346.86V350.14M124.5 347.86V349.14M125.5 347.86V350.14M126.5 349.86V351.14M127.5 347.86V351.14M128.5 349.86V353.14M129.5 350.86V352.14M130.5 349.86V353.14M131.5 349.86V352.14M132.5 351.86V354.14M133.5 351.86V354.14M134.5 351.86V354.14M135.5 351.86V354.14M136.5 352.86V355.14M137.5 352.86V355.14M138.5 352.86V355.14M139.5 353.86V356.14M140.5 353.86V355.14M141.5 354.86V357.14M142.5 354.86V357.14M143.5 354.86V357.14M144.5 353.86V357.14M145.5 354.86V357.14M146.5 355.86V358.14M147.5 354.86V357.14M148.5 353.86V356.14M149.5 354.86V356.14M150.5 355.86V358.14M151.5 354.86V356.14M152.5 355.86V358.14M153.5 353.86V357.14M154.5 349.86V355.14M155.5 346.86V350.14M156.5 348.86V354.14M157.5 352.86V358.14M158.5 356.86V361.14M159.5 356.86V359.14M160.5 354.86V357.14M161.5 352.86V356.14M162.5 350.86V353.14M163.5 350.86V353.14M164.5 350.86V352.14M165.5 350.86V353.14M166.5 348.86V351.14M167.5 348.86V350.14M168.5 347.86V350.14M169.5 348.86V351.14M170.5 349.86V352.14M171.5 350.86V353.14M172.5 351.86V354.14M173.5 351.86V354.14M174.5 351.86V354.14M175.5 350.86V353.14M176.5 350.86V353.14M177.5 349.86V352.14M178.5 349.86V352.14M179.5 350.86V352.14M180.5 350.86V352.14M181.5 350.86V353.14M182.5 350.86V352.14M183.5 351.86V353.14M184.5 352.86V354.14M185.5 352.86V355.14M186.5 351.86V354.14M187.5 351.86V354.14M188.5 350.86V352.14M189.5 350.86V352.14M190.5 350.86V352.14M191.5 350.86V352.14M192.5 350.86V353.14M193.5 352.86V354.14M194.5 353.86V355.14M195.5 353.86V356.14M196.5 354.86V358.14M197.5 355.86V358.14M198.5 356.86V360.14M199.5 358.86V361.14M200.5 359.86V362.14M201.5 360.86V363.14M202.5 362.86V364.14M203.5 363.86V365.14M204.5 363.86V366.14M205.5 365.86V368.14M206.5 366.86V368.14M207.5 367.86V369.14M208.5 367.86V370.14M209.5 369.86V371.14M210.5 370.86V372.14M211.5 370.86V372.14M212.5 371.86V373.14M213.5 372.86V374.14M214.5 373.86V375.14M215.5 374.86V376.14M216.5 375.86V378.14M217.5 376.86V378.14M218.5 377.86V380.14M219.5 378.86V380.14M220.5 379.86V382.14M221.5 379.86V381.14M222.5 379.86V382.14M223.5 380.86V383.14M224.5 382.86V384.14M225.5 382.86V385.14M226.5 383.86V386.14M227.5 384.86V386.14M228.5 384.86V387.14M229.5 384.86V386.14M230.5 385.86V388.14M231.5 385.86V388.14M232.5 386.86V389.14M233.5 388.86V390.14M234.5 389.86V391.14M235.5 389.86V392.14M236.5 389.86V391.14M237.5 390.86V393.14M238.5 391.86V394.14M239.5 391.86V393.14M240.5 392.86V394.14M241.5 393.86V395.14M242.5 394.86V396.14M243.5 394.86V396.14M244.5 394.86V396.14M245.5 394.86V397.14M246.5 395.86V397.14M247.5 396.86V399.14M248.5 396.86V398.14M249.5 397.86V399.14M250.5 398.86V400.14M251.5 398.86V400.14M252.5 398.86V400.14M253.5 399.86V401.14M254.5 400.86V402.14M255.5 399.86V401.14M256.5 400.86V402.14M257.5 400.86V403.14M258.5 399.86V401.14M259.5 399.86V401.14M260.5 399.86V401.14M261.5 400.86V402.14M262.5 401.86V403.14M263.5 401.86V403.14M264.5 401.86V403.14M265.5 401.86V403.14M266.5 400.86V403.14M267.5 401.86V403.14M268.5 402.86V405.14M269.5 402.86V404.14M270.5 403.86V405.14M271.5 403.86V406.14M272.5 402.86V404.14M273.5 402.86V404.14M274.5 403.86V406.14M275.5 403.86V405.14M276.5 403.86V405.14M277.5 402.86V405.14M278.5 402.86V405.14M279.5 403.86V406.14M280.5 403.86V405.14M281.5 404.86V406.14M282.5 404.86V406.14M283.5 405.86V407.14M284.5 405.86V407.14M285.5 405.86V407.14M286.5 404.86V407.14M287.5 405.86V407.14M288.5 405.86V408.14M289.5 405.86V408.14M290.5 406.86V408.14M291.5 406.86V408.14M292.5 405.86V408.14M293.5 405.86V407.14M294.5 405.86V407.14M295.5 406.86V408.14M296.5 405.86V407.14M297.5 405.86V408.14M298.5 405.86V407.14M299.5 406.86V408.14M300.5 406.86V408.14M301.5 405.86V407.14M302.5 406.86V408.14M303.5 406.86V408.14M304.5 406.86V408.14M305.5 406.86V408.14M306.5 405.86V408.14M307.5 406.86V408.14M308.5 405.86V407.14M309.5 405.86V408.14M310.5 406.86V408.14M311.5 405.86V408.14M312.5 406.86V408.14M313.5 405.86V407.14M314.5 406.86V409.14M315.5 407.86V409.14M316.5 406.86V408.14M317.5 407.86V410.14M318.5 406.86V409.14M319.5 405.86V408.14M320.5 406.86V408.14M321.5 405.86V408.14M322.5 406.86V409.14M323.5 405.86V408.14M324.5 406.86V408.14M325.5 407.86V409.14M326.5 406.86V409.14M327.5 406.86V409.14M328.5 407.86V409.14M329.5 404.86V408.14M330.5 400.86V405.14M331.5 397.86V401.14M332.5 398.86V404.14M333.5 394.86V399.14M334.5 396.86V402.14M335.5 398.86V400.14M336.5 396.86V401.14M337.5 399.86V406.14M338.5 405.86V412.14M339.5 406.86V410.14M340.5 404.86V407.14M341.5 404.86V407.14M342.5 404.86V406.14M343.5 405.86V407.14M344.5 404.86V407.14M345.5 405.86V408.14M346.5 407.86V409.14M347.5 406.86V409.14M348.5 407.86V409.14M349.5 407.86V410.14M350.5 407.86V409.14M351.5 407.86V410.14M352.5 409.86V411.14M353.5 408.86V411.14M354.5 409.86V411.14M355.5 409.86V412.14M356.5 409.86V411.14M357.5 408.86V411.14M358.5 408.86V410.14M359.5 408.86V410.14M360.5 408.86V410.14M361.5 408.86V411.14M362.5 409.86V411.14M363.5 408.86V410.14M364.5 409.86V411.14M365.5 408.86V410.14M366.5 409.86V411.14M367.5 408.86V410.14M368.5 409.86V411.14M369.5 409.86V411.14M370.5 410.86V412.14M371.5 410.86V412.14M372.5 410.86V412.14M373.5 410.86V413.14M374.5 411.86V413.14M375.5 410.86V413.14M376.5 411.86V413.14M377.5 411.86V413.14M378.5 412.86V414.14M379.5 410.86V413.14M380.5 411.86V414.14M381.5 410.86V413.14M382.5 411.86V414.14M383.5 410.86V413.14M384.5 411.86V413.14M385.5 410.86V413.14M386.5 412.86V414.14M387.5 412.86V415.14M388.5 414.86V416.14M389.5 414.86V416.14M390.5 413.86V415.14M391.5 414.86V417.14M392.5 414.86V416.14M393.5 413.86V416.14M394.5 413.86V416.14M395.5 414.86V417.14M396.5 416.86V419.14M397.5 417.86V419.14M398.5 416.86V419.14M399.5 416.86V418.14M400.5 415.86V418.14M401.5 417.86V419.14M402.5 416.86V418.14M403.5 416.86V419.14M404.5 417.86V420.14M405.5 417.86V420.14M406.5 418.86V421.14M407.5 419.86V422.14M408.5 419.86V421.14M409.5 418.86V421.14M410.5 417.86V420.14M411.5 417.86V419.14M412.5 416.86V419.14M413.5 417.86V420.14M414.5 416.86V419.14M415.5 417.86V419.14M416.5 418.86V420.14M417.5 417.86V420.14M418.5 417.86V419.14M419.5 417.86V420.14M420.5 418.86V420.14M421.5 418.86V421.14M422.5 419.86V422.14M423.5 420.86V422.14M424.5 420.86V422.14M425.5 419.86V422.14M426.5 418.86V420.14M427.5 416.86V419.14M428.5 417.86V419.14M429.5 417.86V419.14M430.5 415.86V418.14M431.5 415.86V417.14M432.5 413.86V416.14M433.5 410.86V415.14M434.5 408.86V411.14M435.5 406.86V409.14M436.5 404.86V408.14M437.5 403.86V405.14M438.5 402.86V405.14M439.5 403.86V406.14M440.5 404.86V408.14M441.5 406.86V409.14M442.5 408.86V410.14M443.5 409.86V412.14M444.5 411.86V414.14M445.5 413.86V416.14M446.5 414.86V418.14M447.5 416.86V420.14M448.5 419.86V426.14M449.5 425.86V435.14M450.5 434.86V442.14M451.5 433.86V440.14M452.5 424.86V434.14M453.5 419.86V426.14M454.5 417.86V421.14M455.5 416.86V418.14M456.5 415.86V417.14M457.5 414.86V416.14M458.5 412.86V416.14M459.5 411.86V414.14M460.5 410.86V413.14M461.5 408.86V411.14M462.5 408.86V410.14M463.5 407.86V409.14M464.5 407.86V409.14M465.5 407.86V409.14M466.5 407.86V409.14M467.5 405.86V408.14M468.5 404.86V406.14M469.5 402.86V405.14M470.5 397.86V403.14M471.5 388.86V399.14M472.5 377.86V390.14M473.5 366.86V379.14M474.5 356.86V367.14M475.5 341.86V357.14M476.5 325.86V343.14M477.5 314.86V326.14M478.5 305.86V315.14M479.5 298.86V306.14M480.5 295.86V299.14M481.5 291.86V296.14M482.5 288.86V292.14M483.5 286.86V290.14M484.5 284.86V288.14M485.5 284.86V287.14M486.5 285.86V291.14M487.5 290.86V298.14M488.5 296.86V305.14M489.5 304.86V312.14M490.5 310.86V317.14M491.5 316.86V322.14M492.5 320.86V324.14M493.5 322.86V325.14M494.5 323.86V325.14M495.5 322.86V324.14M496.5 320.86V324.14M497.5 314.86V321.14M498.5 305.86V315.14M499.5 296.86V307.14M500.5 285.86V297.14M501.5 272.86V287.14M502.5 259.86V274.14M503.5 248.86V260.14M504.5 243.86V250.14M505.5 243.86V249.14M506.5 247.86V257.14M507.5 256.86V267.14M508.5 265.86V272.14M509.5 271.86V277.14M510.5 275.86V282.14M511.5 278.86V285.14M512.5 283.86V291.14M513.5 290.86V293.14M514.5 292.86V299.14M515.5 297.86V304.14M516.5 293.86V299.14M517.5 288.86V295.14M518.5 286.86V291.14M519.5 281.86V288.14M520.5 273.86V282.14M521.5 268.86V275.14M522.5 272.86V279.14M523.5 278.86V284.14M524.5 283.86V287.14M525.5 286.86V290.14M526.5 286.86V289.14"/>
<path stroke="#ffff00" d="M100.5 344.86V348.14M101.5 345.86V347.14M102.5 345.86V348.14M103.5 345.86V347.14M104.5 346.86V348.14M105.5 347.86V351.14M106.5 346.86V349.14M107.5 345.86V347.14M108.5 345.86V348.14M109.5 346.86V349.14M110.5 347.86V349.14M111.5 347.86V350.14M112.5 349.86V352.14M113.5 348.86V351.14M114.5 347.86V351.14M115.5 349.86V352.14M116.5 350.86V353.14M117.5 350.86V353.14M118.5 350.86V353.14M119.5 350.86V353.14M120.5 351.86V354.14M121.5 352.86V355.14M122.5 352.86V355.14M123.5 352.86V354.14M124.5 352.86V354.14M125.5 353.86V356.14M126.5 353.86V356.14M127.5 355.86V357.14M128.5 356.86V358.14M129.5 356.86V359.14M130.5 355.86V358.14M131.5 357.86V360.14M132.5 357.86V361.14M133.5 357.86V360.14M134.5 357.86V360.14M135.5 358.86V361.14M136.5 357.86V360.14M137.5 357.86V361.14M138.5 359.86V361.14M139.5 359.86V362.14M140.5 360.86V362.14M141.5 361.86V363.14M142.5 361.86V364.14M143.5 360.86V363.14M144.5 361.86V364.14M145.5 361.86V363.14M146.5 360.86V363.14M147.5 361.86V363.14M148.5 360.86V363.14M149.5 361.86V363.14M150.5 360.86V364.14M151.5 361.86V364.14M152.5 358.86V362.14M153.5 358.86V361.14M154.5 357.86V360.14M155.5 357.86V360.14M156.5 358.86V362.14M157.5 359.86V364.14M158.5 362.86V366.14M159.5 363.86V366.14M160.5 360.86V364.14M161.5 358.86V362.14M162.5 358.86V360.14M163.5 357.86V360.14M164.5 355.86V358.14M165.5 354.86V358.14M166.5 356.86V359.14M167.5 355.86V358.14M168.5 353.86V356.14M169.5 353.86V356.14M170.5 355.86V358.14M171.5 355.86V358.14M172.5 356.86V359.14M173.5 355.86V358.14M174.5 356.86V359.14M175.5 356.86V359.14M176.5 356.86V359.14M177.5 355.86V358.14M178.5 356.86V358.14M179.5 355.86V357.14M180.5 355.86V358.14M181.5 355.86V358.14M182.5 356.86V358.14M183.5 355.86V357.14M184.5 355.86V358.14M185.5 356.86V359.14M186.5 356.86V358.14M187.5 356.86V359.14M188.5 356.86V358.14M189.5 356.86V358.14M190.5 356.86V358.14M191.5 355.86V358.14M192.5 356.86V358.14M193.5 357.86V360.14M194.5 356.86V360.14M195.5 358.86V361.14M196.5 359.86V362.14M197.5 361.86V364.14M198.5 362.86V365.14M199.5 363.86V366.14M200.5 365.86V367.14M201.5 366.86V368.14M202.5 367.86V369.14M203.5 368.86V371.14M204.5 370.86V372.14M205.5 371.86V374.14M206.5 371.86V374.14M207.5 372.86V375.14M208.5 374.86V377.14M209.5 374.86V377.14M210.5 376.86V380.14M211.5 377.86V380.14M212.5 378.86V380.14M213.5 379.86V382.14M214.5 381.86V383.14M215.5 381.86V384.14M216.5 381.86V384.14M217.5 383.86V385.14M218.5 383.86V386.14M219.5 384.86V387.14M220.5 385.86V388.14M221.5 386.86V389.14M222.5 386.86V389.14M223.5 388.86V391.14M224.5 389.86V392.14M225.5 389.86V391.14M226.5 390.86V392.14M227.5 391.86V393.14M228.5 392.86V394.14M229.5 393.86V395.14M230.5 393.86V396.14M231.5 394.86V396.14M232.5 394.86V397.14M233.5 395.86V397.14M234.5 395.86V397.14M235.5 396.86V399.14M236.5 397.86V400.14M237.5 398.86V400.14M238.5 399.86V401.14M239.5 400.86V402.14M240.5 399.86V402.14M241.5 400.86V403.14M242.5 401.86V404.14M243.5 401.86V403.14M244.5 402.86V405.14M245.5 403.86V405.14M246.5 404.86V406.14M247.5 403.86V406.14M248.5 404.86V407.14M249.5 405.86V407.14M250.5 406.86V408.14M251.5 405.86V408.14M252.5 407.86V410.14M253.5 407.86V410.14M254.5 408.86V410.14M255.5 407.86V409.14M256.5 408.86V411.14M257.5 409.86V411.14M258.5 408.86V410.14M259.5 408.86V411.14M260.5 408.86V410.14M261.5 409.86V411.14M262.5 409.86V411.14M263.5 410.86V412.14M264.5 410.86V412.14M265.5 410.86V412.14M266.5 410.86V412.14M267.5 409.86V412.14M268.5 410.86V412.14M269.5 411.86V413.14M270.5 411.86V414.14M271.5 411.86V413.14M272.5 411.86V414.14M273.5 412.86V415.14M274.5 413.86V415.14M275.5 412.86V414.14M276.5 412.86V415.14M277.5 413.86V416.14M278.5 412.86V415.14M279.5 413.86V415.14M280.5 414.86V416.14M281.5 414.86V416.14M282.5 413.86V415.14M283.5 414.86V416.14M284.5 414.86V416.14M285.5 415.86V417.14M286.5 414.86V416.14M287.5 414.86V416.14M288.5 414.86V417.14M289.5 415.86V417.14M290.5 414.86V417.14M291.5 415.86V418.14M292.5 415.86V417.14M293.5 415.86V417.14M294.5 416.86V418.14M295.5 415.86V417.14M296.5 416.86V418.14M297.5 416.86V418.14M298.5 416.86V418.14M299.5 415.86V417.14M300.5 416.86V419.14M301.5 415.86V418.14M302.5 416.86V418.14M303.5 415.86V418.14M304.5 415.86V418.14M305.5 415.86V418.14M306.5 416.86V418.14M307.5 416.86V418.14M308.5 416.86V418.14M309.5 416.86V419.14M310.5 416.86V419.14M311.5 416.86V419.14M312.5 416.86V419.14M313.5 416.86V418.14M314.5 417.86V419.14M315.5 417.86V420.14M316.5 417.86V419.14M317.5 418.86V420.14M318.5 416.86V419.14M319.5 417.86V419.14M320.5 417.86V420.14M321.5 418.86V420.14M322.5 418.86V420.14M323.5 417.86V419.14M324.5 417.86V419.14M325.5 417.86V419.14M326.5 418.86V420.14M327.5 418.86V420.14M328.5 417.86V419.14M329.5 416.86V419.14M330.5 415.86V418.14M331.5 409.86V419.14M332.5 412.86V418.14M333.5 412.86V418.14M334.5 414.86V418.14M335.5 406.86V415.14M336.5 409.86V417.14M337.5 411.86V414.14M338.5 413.86V422.14M339.5 418.86V425.14M340.5 416.86V420.14M341.5 416.86V418.14M342.5 416.86V418.14M343.5 415.86V418.14M344.5 417.86V419.14M345.5 417.86V419.14M346.5 417.86V420.14M347.5 418.86V420.14M348.5 418.86V421.14M349.5 418.86V420.14M350.5 419.86V421.14M351.5 419.86V422.14M352.5 420.86V423.14M353.5 420.86V423.14M354.5 421.86V424.14M355.5 421.86V423.14M356.5 421.86V424.14M357.5 421.86V423.14M358.5 420.86V422.14M359.5 420.86V422.14M360.5 420.86V422.14M361.5 420.86V422.14M362.5 420.86V422.14M363.5 419.86V421.14M364.5 420.86V422.14M365.5 420.86V422.14M366.5 420.86V423.14M367.5 421.86V424.14M368.5 422.86V424.14M369.5 421.86V423.14M370.5 421.86V424.14M371.5 422.86V424.14M372.5 422.86V424.14M373.5 423.86V425.14M374.5 422.86V424.14M375.5 422.86V424.14M376.5 423.86V426.14M377.5 423.86V425.14M378.5 423.86V426.14M379.5 424.86V427.14M380.5 424.86V426.14M381.5 424.86V427.14M382.5 423.86V425.14M383.5 424.86V426.14M384.5 425.86V427.14M385.5 423.86V426.14M386.5 425.86V427.14M387.5 424.86V427.14M388.5 425.86V428.14M389.5 426.86V428.14M390.5 426.86V429.14M391.5 426.86V428.14M392.5 427.86V429.14M393.5 427.86V430.14M394.5 428.86V430.14M395.5 427.86V430.14M396.5 427.86V429.14M397.5 428.86V430.14M398.5 429.86V431.14M399.5 428.86V431.14M400.5 429.86V431.14M401.5 430.86V432.14M402.5 430.86V432.14M403.5 430.86V433.14M404.5 430.86V433.14M405.5 431.86V434.14M406.5 432.86V434.14M407.5 432.86V435.14M408.5 433.86V435.14M409.5 432.86V434.14M410.5 433.86V435.14M411.5 431.86V434.14M412.5 432.86V435.14M413.5 433.86V435.14M414.5 432.86V434.14M415.5 432.86V435.14M416.5 433.86V435.14M417.5 433.86V435.14M418.5 434.86V436.14M419.5 433.86V435.14M420.5 433.86V436.14M421.5 434.86V437.14M422.5 435.86V437.14M423.5 435.86V437.14M424.5 434.86V437.14M425.5 433.86V436.14M426.5 433.86V435.14M427.5 433.86V436.14M428.5 432.86V435.14M429.5 432.86V434.14M430.5 431.86V433.14M431.5 430.86V432.14M432.5 428.86V431.14M433.5 425.86V429.14M434.5 423.86V427.14M435.5 421.86V425.14M436.5 418.86V422.14M437.5 415.86V419.14M438.5 416.86V418.14M439.5 416.86V419.14M440.5 417.86V422.14M441.5 420.86V424.14M442.5 422.86V426.14M443.5 425.86V427.14M444.5 426.86V429.14M445.5 427.86V431.14M446.5 430.86V435.14M447.5 433.86V438.14M448.5 437.86V443.14M449.5 442.86V453.14M450.5 452.86V461.14M451.5 453.86V460.14M452.5 445.86V454.14M453.5 438.86V446.14M454.5 434.86V440.14M455.5 432.86V435.14M456.5 432.86V434.14M457.5 431.86V434.14M458.5 430.86V433.14M459.5 429.86V432.14M460.5 426.86V430.14M461.5 425.86V428.14M462.5 425.86V427.14M463.5 426.86V428.14M464.5 425.86V428.14M465.5 425.86V427.14M466.5 424.86V427.14M467.5 422.86V426.14M468.5 421.86V424.14M469.5 419.86V423.14M470.5 414.86V420.14M471.5 404.86V415.14M472.5 392.86V406.14M473.5 378.86V393.14M474.5 365.86V380.14M475.5 348.86V366.14M476.5 330.86V349.14M477.5 320.86V332.14M478.5 314.86V321.14M479.5 309.86V315.14M480.5 303.86V310.14M481.5 297.86V304.14M482.5 293.86V299.14M483.5 289.86V295.14M484.5 288.86V291.14M485.5 287.86V290.14M486.5 289.86V294.14M487.5 292.86V301.14M488.5 299.86V308.14M489.5 306.86V314.14M490.5 312.86V321.14M491.5 319.86V325.14M492.5 323.86V327.14M493.5 325.86V328.14M494.5 327.86V329.14M495.5 326.86V328.14M496.5 324.86V328.14M497.5 318.86V326.14M498.5 308.86V319.14M499.5 297.86V309.14M500.5 287.86V298.14M501.5 273.86V288.14M502.5 259.86V275.14M503.5 249.86V261.14M504.5 244.86V250.14M505.5 243.86V247.14M506.5 245.86V254.14M507.5 252.86V263.14M508.5 261.86V270.14M509.5 269.86V277.14M510.5 276.86V283.14M511.5 280.86V288.14M512.5 287.86V294.14M513.5 292.86V298.14M514.5 296.86V301.14M515.5 297.86V301.14M516.5 298.86V306.14M517.5 292.86V299.14M518.5 287.86V294.14M519.5 285.86V292.14M520.5 278.86V286.14M521.5 271.86V280.14M522.5 274.86V282.14M523.5 280.86V288.14M524.5 286.86V292.14M525.5 291.86V295.14M526.5 290.86V293.14"/>
<path stroke="#ff8000" d="M100.5 347.86V351.14M101.5 346.86V349.14M102.5 347.86V350.14M103.5 347.86V349.14M104.5 348.86V351.14M105.5 348.86V351.14M106.5 349.86V353.14M107.5 347.86V350.14M108.5 349.86V352.14M109.5 349.86V353.14M110.5 351.86V354.14M111.5 351.86V354.14M112.5 351.86V354.14M113.5 350.86V353.14M114.5 351.86V354.14M115.5 351.86V354.14M116.5 352.86V355.14M117.5 352.86V355.14M118.5 352.86V355.14M119.5 353.86V356.14M120.5 354.86V357.14M121.5 354.86V357.14M122.5 354.86V357.14M123.5 355.86V358.14M124.5 355.86V358.14M125.5 355.86V359.14M126.5 357.86V359.14M127.5 357.86V359.14M128.5 357.86V359.14M129.5 357.86V360.14M130.5 358.86V361.14M131.5 357.86V361.14M132.5 359.86V362.14M133.5 358.86V361.14M134.5 360.86V363.14M135.5 361.86V363.14M136.5 360.86V363.14M137.5 361.86V364.14M138.5 360.86V363.14M139.5 362.86V365.14M140.5 363.86V366.14M141.5 363.86V365.14M142.5 362.86V366.14M143.5 362.86V366.14M144.5 362.86V366.14M145.5 363.86V366.14M146.5 363.86V366.14M147.5 363.86V366.14M148.5 363.86V366.14M149.5 364.86V366.14M150.5 362.86V366.14M151.5 362.86V366.14M152.5 361.86V365.14M153.5 359.86V362.14M154.5 359.86V362.14M155.5 359.86V362.14M156.5 361.86V364.14M157.5 363.86V366.14M158.5 365.86V368.14M159.5 365.86V368.14M160.5 363.86V367.14M161.5 361.86V364.14M162.5 360.86V362.14M163.5 359.86V361.14M164.5 358.86V361.14M165.5 357.86V360.14M166.5 358.86V361.14M167.5 356.86V359.14M168.5 358.86V361.14M169.5 357.86V361.14M170.5 356.86V359.14M171.5 358.86V360.14M172.5 358.86V361.14M173.5 358.86V361.14M174.5 359.86V361.14M175.5 359.86V361.14M176.5 358.86V361.14M177.5 358.86V361.14M178.5 358.86V361.14M179.5 358.86V361.14M180.5 358.86V361.14M181.5 359.86V362.14M182.5 358.86V361.14M183.5 360.86V362.14M184.5 360.86V363.14M185.5 359.86V361.14M186.5 360.86V363.14M187.5 360.86V363.14M188.5 359.86V361.14M189.5 359.86V361.14M190.5 360.86V363.14M191.5 360.86V362.14M192.5 360.86V362.14M193.5 360.86V362.14M194.5 360.86V363.14M195.5 361.86V364.14M196.5 363.86V365.14M197.5 364.86V366.14M198.5 365.86V367.14M199.5 366.86V370.14M200.5 368.86V372.14M201.5 370.86V372.14M202.5 371.86V373.14M203.5 372.86V375.14M204.5 373.86V375.14M205.5 374.86V376.14M206.5 375.86V379.14M207.5 377.86V381.14M208.5 379.86V382.14M209.5 380.86V383.14M210.5 381.86V384.14M211.5 382.86V385.14M212.5 383.86V385.14M213.5 384.86V387.14M214.5 385.86V388.14M215.5 386.86V389.14M216.5 386.86V389.14M217.5 387.86V390.14M218.5 387.86V390.14M219.5 389.86V391.14M220.5 389.86V392.14M221.5 390.86V393.14M222.5 391.86V394.14M223.5 392.86V394.14M224.5 393.86V395.14M225.5 393.86V396.14M226.5 394.86V397.14M227.5 395.86V399.14M228.5 397.86V400.14M229.5 397.86V400.14M230.5 399.86V401.14M231.5 399.86V401.14M232.5 400.86V402.14M233.5 401.86V403.14M234.5 401.86V404.14M235.5 402.86V405.14M236.5 403.86V406.14M237.5 404.86V406.14M238.5 405.86V407.14M239.5 405.86V407.14M240.5 405.86V408.14M241.5 406.86V410.14M242.5 408.86V411.14M243.5 408.86V410.14M244.5 409.86V411.14M245.5 409.86V411.14M246.5 410.86V412.14M247.5 409.86V412.14M248.5 411.86V413.14M249.5 411.86V413.14M250.5 412.86V415.14M251.5 413.86V415.14M252.5 413.86V416.14M253.5 414.86V418.14M254.5 414.86V417.14M255.5 414.86V417.14M256.5 416.86V418.14M257.5 415.86V417.14M258.5 415.86V418.14M259.5 416.86V418.14M260.5 417.86V419.14M261.5 416.86V418.14M262.5 416.86V419.14M263.5 416.86V419.14M264.5 416.86V419.14M265.5 418.86V420.14M266.5 417.86V419.14M267.5 418.86V420.14M268.5 417.86V420.14M269.5 417.86V420.14M270.5 418.86V421.14M271.5 418.86V421.14M272.5 418.86V420.14M273.5 418.86V420.14M274.5 419.86V421.14M275.5 419.86V422.14M276.5 420.86V423.14M277.5 419.86V422.14M278.5 420.86V422.14M279.5 420.86V422.14M280.5 419.86V422.14M281.5 420.86V423.14M282.5 420.86V423.14M283.5 421.86V423.14M284.5 422.86V424.14M285.5 422.86V424.14M286.5 422.86V425.14M287.5 421.86V424.14M288.5 422.86V424.14M289.5 423.86V425.14M290.5 423.86V426.14M291.5 422.86V424.14M292.5 422.86V425.14M293.5 423.86V426.14M294.5 422.86V425.14M295.5 423.86V425.14M296.5 423.86V425.14M297.5 422.86V425.14M298.5 423.86V426.14M299.5 423.86V425.14M300.5 423.86V426.14M301.5 424.86V426.14M302.5 423.86V426.14M303.5 424.86V426.14M304.5 424.86V426.14M305.5 424.86V426.14M306.5 424.86V427.14M307.5 424.86V426.14M308.5 425.86V427.14M309.5 425.86V427.14M310.5 425.86V428.14M311.5 425.86V427.14M312.5 425.86V427.14M313.5 426.86V428.14M314.5 425.86V428.14M315.5 426.86V429.14M316.5 426.86V428.14M317.5 426.86V428.14M318.5 426.86V428.14M319.5 426.86V429.14M320.5 426.86V428.14M321.5 427.86V429.14M322.5 427.86V430.14M323.5 427.86V429.14M324.5 426.86V429.14M325.5 427.86V429.14M326.5 427.86V430.14M327.5 426.86V429.14M328.5 427.86V429.14M329.5 424.86V428.14M330.5 421.86V425.14M331.5 418.86V424.14M332.5 419.86V423.14M333.5 416.86V424.14M334.5 413.86V419.14M335.5 417.86V423.14M336.5 419.86V428.14M337.5 418.86V424.14M338.5 423.86V433.14M339.5 430.86V436.14M340.5 427.86V432.14M341.5 425.86V428.14M342.5 424.86V427.14M343.5 424.86V427.14M344.5 425.86V429.14M345.5 426.86V428.14M346.5 427.86V430.14M347.5 427.86V429.14M348.5 428.86V430.14M349.5 426.86V429.14M350.5 428.86V430.14M351.5 428.86V430.14M352.5 429.86V432.14M353.5 430.86V432.14M354.5 429.86V432.14M355.5 430.86V432.14M356.5 430.86V433.14M357.5 429.86V432.14M358.5 429.86V431.14M359.5 429.86V431.14M360.5 429.86V431.14M361.5 429.86V431.14M362.5 429.86V431.14M363.5 430.86V432.14M364.5 430.86V432.14M365.5 429.86V431.14M366.5 429.86V432.14M367.5 431.86V433.14M368.5 431.86V434.14M369.5 431.86V433.14M370.5 431.86V433.14M371.5 432.86V434.14M372.5 432.86V434.14M373.5 433.86V435.14M374.5 432.86V435.14M375.5 432.86V435.14M376.5 433.86V435.14M377.5 433.86V435.14M378.5 433.86V436.14M379.5 434.86V436.14M380.5 434.86V436.14M381.5 434.86V436.14M382.5 433.86V435.14M383.5 433.86V435.14M384.5 434.86V436.14M385.5 434.86V436.14M386.5 434.86V436.14M387.5 435.86V438.14M388.5 437.86V439.14M389.5 437.86V439.14M390.5 436.86V439.14M391.5 437.86V440.14M392.5 437.86V440.14M393.5 438.86V441.14M394.5 438.86V440.14M395.5 437.86V440.14M396.5 438.86V440.14M397.5 439.86V441.14M398.5 439.86V442.14M399.5 440.86V442.14M400.5 440.86V443.14M401.5 440.86V443.14M402.5 441.86V444.14M403.5 440.86V443.14M404.5 442.86V444.14M405.5 442.86V445.14M406.5 444.86V446.14M407.5 444.86V446.14M408.5 443.86V445.14M409.5 443.86V445.14M410.5 442.86V445.14M411.5 442.86V444.14M412.5 442.86V445.14M413.5 443.86V446.14M414.5 443.86V445.14M415.5 443.86V445.14M416.5 443.86V446.14M417.5 444.86V446.14M418.5 444.86V447.14M419.5 444.86V446.14M420.5 445.86V448.14M421.5 445.86V448.14M422.5 445.86V447.14M423.5 445.86V448.14M424.5 445.86V448.14M425.5 444.86V447.14M426.5 445.86V447.14M427.5 444.86V446.14M428.5 443.86V446.14M429.5 443.86V445.14M430.5 443.86V445.14M431.5 442.86V444.14M432.5 438.86V443.14M433.5 435.86V440.14M434.5 432.86V436.14M435.5 430.86V434.14M436.5 427.86V431.14M437.5 426.86V429.14M438.5 425.86V427.14M439.5 426.86V429.14M440.5 427.86V432.14M441.5 431.86V435.14M442.5 434.86V438.14M443.5 436.86V439.14M444.5 438.86V442.14M445.5 440.86V444.14M446.5 442.86V446.14M447.5 445.86V451.14M448.5 449.86V459.14M449.5 457.86V467.14M450.5 466.86V471.14M451.5 461.86V469.14M452.5 453.86V463.14M453.5 449.86V455.14M454.5 446.86V450.14M455.5 446.86V449.14M456.5 444.86V448.14M457.5 443.86V446.14M458.5 442.86V445.14M459.5 441.86V445.14M460.5 439.86V443.14M461.5 438.86V441.14M462.5 437.86V439.14M463.5 437.86V440.14M464.5 438.86V441.14M465.5 438.86V442.14M466.5 436.86V440.14M467.5 435.86V438.14M468.5 434.86V437.14M469.5 432.86V435.14M470.5 426.86V434.14M471.5 416.86V428.14M472.5 401.86V417.14M473.5 387.86V403.14M474.5 372.86V388.14M475.5 355.86V373.14M476.5 338.86V357.14M477.5 323.86V340.14M478.5 317.86V325.14M479.5 313.86V318.14M480.5 308.86V315.14M481.5 301.86V309.14M482.5 295.86V303.14M483.5 292.86V297.14M484.5 290.86V294.14M485.5 289.86V292.14M486.5 291.86V296.14M487.5 295.86V302.14M488.5 301.86V309.14M489.5 308.86V317.14M490.5 315.86V323.14M491.5 322.86V327.14M492.5 326.86V329.14M493.5 327.86V330.14M494.5 328.86V331.14M495.5 328.86V331.14M496.5 325.86V330.14M497.5 319.86V326.14M498.5 309.86V320.14M499.5 299.86V311.14M500.5 288.86V300.14M501.5 275.86V289.14M502.5 261.86V276.14M503.5 249.86V262.14M504.5 243.86V251.14M505.5 242.86V245.14M506.5 243.86V251.14M507.5 249.86V258.14M508.5 257.86V267.14M509.5 265.86V276.14M510.5 275.86V284.14M511.5 282.86V288.14M512.5 287.86V293.14M513.5 292.86V303.14M514.5 296.86V303.14M515.5 302.86V307.14M516.5 298.86V304.14M517.5 295.86V302.14M518.5 290.86V299.14M519.5 287.86V293.14M520.5 279.86V289.14M521.5 275.86V281.14M522.5 277.86V283.14M523.5 282.86V291.14M524.5 289.86V296.14M525.5 293.86V298.14M526.5 293.86V297.14"/>
<path stroke="#ff0000" d="M100.5 347.86V351.14M101.5 350.86V353.14M102.5 348.86V352.14M103.5 349.86V353.14M104.5 351.86V354.14M105.5 351.86V354.14M106.5 351.86V353.14M107.5 352.86V354.14M108.5 351.86V354.14M109.5 353.86V356.14M110.5 350.86V354.14M111.5 352.86V355.14M112.5 351.86V355.14M113.5 352.86V356.14M114.5 353.86V357.14M115.5 354.86V358.14M116.5 353.86V357.14M117.5 353.86V357.14M118.5 355.86V358.14M119.5 355.86V358.14M120.5 354.86V358.14M121.5 356.86V360.14M122.5 356.86V360.14M123.5 357.86V360.14M124.5 356.86V360.14M125.5 358.86V362.14M126.5 356.86V360.14M127.5 357.86V360.14M128.5 357.86V362.14M129.5 361.86V365.14M130.5 359.86V363.14M131.5 359.86V362.14M132.5 361.86V364.14M133.5 362.86V365.14M134.5 362.86V365.14M135.5 362.86V366.14M136.5 364.86V367.14M137.5 364.86V368.14M138.5 363.86V367.14M139.5 363.86V367.14M140.5 365.86V367.14M141.5 365.86V369.14M142.5 364.86V367.14M143.5 365.86V368.14M144.5 362.86V367.14M145.5 365.86V368.14M146.5 366.86V370.14M147.5 366.86V369.14M148.5 365.86V368.14M149.5 366.86V370.14M150.5 366.86V369.14M151.5 365.86V368.14M152.5 364.86V367.14M153.5 362.86V366.14M154.5 361.86V364.14M155.5 362.86V364.14M156.5 363.86V368.14M157.5 366.86V370.14M158.5 369.86V373.14M159.5 367.86V371.14M160.5 365.86V368.14M161.5 363.86V367.14M162.5 363.86V366.14M163.5 363.86V366.14M164.5 363.86V366.14M165.5 361.86V364.14M166.5 359.86V362.14M167.5 360.86V363.14M168.5 359.86V363.14M169.5 361.86V363.14M170.5 360.86V362.14M171.5 361.86V364.14M172.5 361.86V363.14M173.5 361.86V364.14M174.5 359.86V363.14M175.5 359.86V362.14M176.5 360.86V362.14M177.5 361.86V364.14M178.5 361.86V364.14M179.5 362.86V365.14M180.5 361.86V364.14M181.5 362.86V365.14M182.5 361.86V364.14M183.5 362.86V366.14M184.5 362.86V365.14M185.5 364.86V367.14M186.5 363.86V366.14M187.5 363.86V365.14M188.5 363.86V366.14M189.5 361.86V364.14M190.5 363.86V365.14M191.5 362.86V365.14M192.5 362.86V364.14M193.5 362.86V365.14M194.5 364.86V367.14M195.5 365.86V367.14M196.5 366.86V369.14M197.5 367.86V370.14M198.5 368.86V371.14M199.5 370.86V372.14M200.5 371.86V374.14M201.5 372.86V375.14M202.5 374.86V377.14M203.5 375.86V378.14M204.5 376.86V379.14M205.5 378.86V381.14M206.5 379.86V382.14M207.5 380.86V384.14M208.5 383.86V385.14M209.5 383.86V386.14M210.5 385.86V388.14M211.5 386.86V389.14M212.5 388.86V390.14M213.5 388.86V391.14M214.5 389.86V391.14M215.5 390.86V392.14M216.5 391.86V394.14M217.5 392.86V395.14M218.5 393.86V395.14M219.5 394.86V397.14M220.5 396.86V398.14M221.5 395.86V398.14M222.5 396.86V399.14M223.5 398.86V400.14M224.5 398.86V401.14M225.5 400.86V402.14M226.5 399.86V402.14M227.5 401.86V403.14M228.5 401.86V404.14M229.5 402.86V405.14M230.5 403.86V405.14M231.5 402.86V405.14M232.5 404.86V407.14M233.5 405.86V408.14M234.5 406.86V408.14M235.5 407.86V409.14M236.5 408.86V410.14M237.5 408.86V410.14M238.5 409.86V411.14M239.5 410.86V413.14M240.5 410.86V413.14M241.5 412.86V414.14M242.5 412.86V415.14M243.5 413.86V415.14M244.5 413.86V416.14M245.5 413.86V416.14M246.5 414.86V417.14M247.5 415.86V418.14M248.5 416.86V419.14M249.5 417.86V420.14M250.5 417.86V420.14M251.5 418.86V420.14M252.5 418.86V421.14M253.5 420.86V422.14M254.5 419.86V421.14M255.5 419.86V422.14M256.5 420.86V423.14M257.5 421.86V423.14M258.5 421.86V423.14M259.5 419.86V422.14M260.5 420.86V423.14M261.5 421.86V424.14M262.5 422.86V424.14M263.5 421.86V424.14M264.5 422.86V425.14M265.5 421.86V424.14M266.5 423.86V425.14M267.5 424.86V426.14M268.5 424.86V426.14M269.5 424.86V426.14M270.5 423.86V425.14M271.5 424.86V426.14M272.5 424.86V427.14M273.5 426.86V428.14M274.5 425.86V427.14M275.5 424.86V427.14M276.5 426.86V428.14M277.5 426.86V428.14M278.5 425.86V427.14M279.5 426.86V429.14M280.5 426.86V428.14M281.5 427.86V429.14M282.5 427.86V429.14M283.5 427.86V429.14M284.5 428.86V430.14M285.5 428.86V430.14M286.5 427.86V430.14M287.5 428.86V430.14M288.5 427.86V430.14M289.5 429.86V431.14M290.5 428.86V430.14M291.5 428.86V431.14M292.5 428.86V431.14M293.5 429.86V432.14M294.5 430.86V432.14M295.5 430.86V432.14M296.5 430.86V432.14M297.5 429.86V432.14M298.5 430.86V432.14M299.5 430.86V432.14M300.5 431.86V433.14M301.5 430.86V432.14M302.5 430.86V432.14M303.5 431.86V433.14M304.5 431.86V433.14M305.5 431.86V433.14M306.5 432.86V435.14M307.5 432.86V434.14M308.5 431.86V434.14M309.5 432.86V434.14M310.5 431.86V433.14M311.5 431.86V433.14M312.5 432.86V434.14M313.5 432.86V434.14M314.5 431.86V434.14M315.5 432.86V435.14M316.5 432.86V434.14M317.5 433.86V435.14M318.5 433.86V435.14M319.5 433.86V436.14M320.5 434.86V436.14M321.5 434.86V436.14M322.5 433.86V435.14M323.5 433.86V436.14M324.5 433.86V435.14M325.5 433.86V435.14M326.5 433.86V435.14M327.5 432.86V434.14M328.5 433.86V435.14M329.5 432.86V436.14M330.5 428.86V433.14M331.5 421.86V430.14M332.5 421.86V437.14M333.5 418.86V429.14M334.5 422.86V427.14M335.5 425.86V428.14M336.5 422.86V431.14M337.5 430.86V437.14M338.5 427.86V444.14M339.5 433.86V440.14M340.5 434.86V437.14M341.5 433.86V435.14M342.5 432.86V434.14M343.5 433.86V436.14M344.5 433.86V435.14M345.5 434.86V436.14M346.5 434.86V437.14M347.5 435.86V438.14M348.5 435.86V437.14M349.5 435.86V438.14M350.5 436.86V439.14M351.5 437.86V439.14M352.5 437.86V439.14M353.5 437.86V440.14M354.5 437.86V440.14M355.5 438.86V440.14M356.5 437.86V440.14M357.5 437.86V439.14M358.5 437.86V439.14M359.5 436.86V438.14M360.5 436.86V438.14M361.5 437.86V439.14M362.5 437.86V439.14M363.5 438.86V440.14M364.5 438.86V440.14M365.5 438.86V440.14M366.5 437.86V439.14M367.5 438.86V440.14M368.5 438.86V441.14M369.5 439.86V441.14M370.5 440.86V443.14M371.5 440.86V443.14M372.5 440.86V443.14M373.5 441.86V443.14M374.5 440.86V443.14M375.5 440.86V443.14M376.5 440.86V442.14M377.5 441.86V443.14M378.5 441.86V443.14M379.5 441.86V444.14M380.5 441.86V443.14M381.5 442.86V444.14M382.5 441.86V443.14M383.5 442.86V444.14M384.5 442.86V444.14M385.5 442.86V444.14M386.5 443.86V445.14M387.5 443.86V446.14M388.5 444.86V447.14M389.5 446.86V448.14M390.5 446.86V448.14M391.5 445.86V447.14M392.5 446.86V449.14M393.5 446.86V448.14M394.5 447.86V449.14M395.5 447.86V449.14M396.5 446.86V448.14M397.5 447.86V450.14M398.5 447.86V449.14M399.5 448.86V450.14M400.5 448.86V450.14M401.5 448.86V451.14M402.5 449.86V452.14M403.5 449.86V452.14M404.5 450.86V453.14M405.5 451.86V454.14M406.5 452.86V454.14M407.5 453.86V455.14M408.5 452.86V455.14M409.5 453.86V455.14M410.5 452.86V454.14M411.5 452.86V455.14M412.5 452.86V454.14M413.5 451.86V454.14M414.5 452.86V454.14M415.5 452.86V454.14M416.5 452.86V455.14M417.5 453.86V455.14M418.5 453.86V455.14M419.5 453.86V456.14M420.5 454.86V457.14M421.5 455.86V457.14M422.5 455.86V457.14M423.5 456.86V458.14M424.5 455.86V457.14M425.5 454.86V457.14M426.5 454.86V456.14M427.5 454.86V456.14M428.5 453.86V456.14M429.5 453.86V456.14M430.5 451.86V454.14M431.5 451.86V454.14M432.5 448.86V452.14M433.5 444.86V449.14M434.5 441.86V446.14M435.5 439.86V443.14M436.5 437.86V441.14M437.5 435.86V439.14M438.5 435.86V437.14M439.5 434.86V437.14M440.5 436.86V441.14M441.5 440.86V444.14M442.5 442.86V445.14M443.5 443.86V447.14M444.5 445.86V450.14M445.5 449.86V453.14M446.5 452.86V458.14M447.5 456.86V463.14M448.5 462.86V470.14M449.5 469.86V478.14M450.5 477.86V483.14M451.5 474.86V482.14M452.5 465.86V475.14M453.5 460.86V466.14M454.5 457.86V461.14M455.5 456.86V459.14M456.5 455.86V457.14M457.5 454.86V456.14M458.5 453.86V456.14M459.5 452.86V455.14M460.5 451.86V454.14M461.5 449.86V452.14M462.5 448.86V451.14M463.5 448.86V451.14M464.5 447.86V449.14M465.5 447.86V450.14M466.5 447.86V449.14M467.5 446.86V449.14M468.5 445.86V447.14M469.5 444.86V446.14M470.5 438.86V445.14M471.5 428.86V440.14M472.5 416.86V430.14M473.5 402.86V417.14M474.5 388.86V403.14M475.5 368.86V390.14M476.5 344.86V369.14M477.5 326.86V345.14M478.5 318.86V327.14M479.5 316.86V320.14M480.5 311.86V317.14M481.5 304.86V313.14M482.5 299.86V306.14M483.5 294.86V300.14M484.5 291.86V296.14M485.5 291.86V294.14M486.5 293.86V298.14M487.5 297.86V306.14M488.5 304.86V313.14M489.5 311.86V319.14M490.5 318.86V325.14M491.5 324.86V329.14M492.5 327.86V330.14M493.5 329.86V332.14M494.5 329.86V331.14M495.5 329.86V331.14M496.5 326.86V331.14M497.5 320.86V328.14M498.5 311.86V322.14M499.5 301.86V313.14M500.5 290.86V302.14M501.5 277.86V292.14M502.5 263.86V278.14M503.5 251.86V264.14M504.5 243.86V252.14M505.5 241.86V244.14M506.5 243.86V249.14M507.5 247.86V255.14M508.5 254.86V262.14M509.5 261.86V272.14M510.5 270.86V287.14M511.5 286.86V297.14M512.5 295.86V300.14M513.5 299.86V303.14M514.5 301.86V313.14M515.5 305.86V312.14M516.5 301.86V307.14M517.5 298.86V302.14M518.5 298.86V307.14M519.5 287.86V300.14M520.5 282.86V289.14M521.5 272.86V283.14M522.5 275.86V288.14M523.5 286.86V295.14M524.5 294.86V300.14M525.5 296.86V298.14M526.5 295.86V300.14"/>
<path stroke="#ff0080" d="M100.5 351.86V356.14M101.5 351.86V356.14M102.5 350.86V353.14M103.5 351.86V354.14M104.5 350.86V355.14M105.5 353.86V357.14M106.5 353.86V357.14M107.5 351.86V355.14M108.5 351.86V356.14M109.5 354.86V357.14M110.5 353.86V357.14M111.5 354.86V357.14M112.5 354.86V360.14M113.5 357.86V360.14M114.5 355.86V359.14M115.5 356.86V361.14M116.5 357.86V360.14M117.5 358.86V362.14M118.5 356.86V360.14M119.5 353.86V358.14M120.5 349.86V354.14M121.5 349.86V352.14M122.5 351.86V356.14M123.5 354.86V358.14M124.5 356.86V359.14M125.5 358.86V361.14M126.5 360.86V364.14M127.5 359.86V364.14M128.5 360.86V363.14M129.5 362.86V367.14M130.5 364.86V368.14M131.5 364.86V368.14M132.5 364.86V367.14M133.5 361.86V366.14M134.5 362.86V364.14M135.5 361.86V364.14M136.5 358.86V362.14M137.5 361.86V364.14M138.5 363.86V367.14M139.5 365.86V370.14M140.5 367.86V370.14M141.5 368.86V372.14M142.5 366.86V370.14M143.5 369.86V374.14M144.5 368.86V371.14M145.5 369.86V373.14M146.5 370.86V373.14M147.5 370.86V374.14M148.5 367.86V371.14M149.5 369.86V372.14M150.5 370.86V373.14M151.5 370.86V373.14M152.5 367.86V371.14M153.5 367.86V372.14M154.5 365.86V368.14M155.5 363.86V367.14M156.5 365.86V370.14M157.5 369.86V375.14M158.5 374.86V379.14M159.5 372.86V376.14M160.5 370.86V374.14M161.5 368.86V371.14M162.5 367.86V372.14M163.5 366.86V369.14M164.5 364.86V368.14M165.5 361.86V366.14M166.5 362.86V368.14M167.5 364.86V367.14M168.5 362.86V366.14M169.5 360.86V365.14M170.5 361.86V365.14M171.5 363.86V367.14M172.5 361.86V365.14M173.5 363.86V366.14M174.5 363.86V367.14M175.5 364.86V367.14M176.5 365.86V368.14M177.5 364.86V367.14M178.5 364.86V367.14M179.5 362.86V365.14M180.5 364.86V367.14M181.5 364.86V366.14M182.5 365.86V367.14M183.5 366.86V369.14M184.5 365.86V369.14M185.5 366.86V369.14M186.5 365.86V368.14M187.5 366.86V369.14M188.5 365.86V368.14M189.5 363.86V366.14M190.5 364.86V367.14M191.5 364.86V367.14M192.5 364.86V367.14M193.5 365.86V368.14M194.5 366.86V369.14M195.5 368.86V371.14M196.5 369.86V372.14M197.5 370.86V373.14M198.5 371.86V374.14M199.5 373.86V376.14M200.5 374.86V378.14M201.5 376.86V379.14M202.5 378.86V381.14M203.5 379.86V382.14M204.5 380.86V382.14M205.5 381.86V383.14M206.5 382.86V385.14M207.5 384.86V387.14M208.5 386.86V389.14M209.5 387.86V391.14M210.5 389.86V392.14M211.5 389.86V393.14M212.5 391.86V395.14M213.5 392.86V395.14M214.5 394.86V397.14M215.5 394.86V396.14M216.5 395.86V398.14M217.5 397.86V399.14M218.5 398.86V400.14M219.5 399.86V401.14M220.5 400.86V402.14M221.5 401.86V404.14M222.5 401.86V403.14M223.5 402.86V404.14M224.5 403.86V405.14M225.5 404.86V406.14M226.5 405.86V407.14M227.5 405.86V407.14M228.5 406.86V409.14M229.5 406.86V409.14M230.5 408.86V410.14M231.5 409.86V411.14M232.5 409.86V412.14M233.5 410.86V412.14M234.5 411.86V413.14M235.5 411.86V413.14M236.5 412.86V414.14M237.5 413.86V415.14M238.5 414.86V417.14M239.5 414.86V417.14M240.5 416.86V418.14M241.5 416.86V419.14M242.5 417.86V419.14M243.5 418.86V420.14M244.5 418.86V421.14M245.5 419.86V422.14M246.5 420.86V422.14M247.5 420.86V423.14M248.5 422.86V425.14M249.5 423.86V426.14M250.5 423.86V425.14M251.5 424.86V426.14M252.5 425.86V427.14M253.5 426.86V428.14M254.5 426.86V428.14M255.5 426.86V428.14M256.5 427.86V429.14M257.5 426.86V428.14M258.5 426.86V428.14M259.5 427.86V429.14M260.5 427.86V430.14M261.5 428.86V430.14M262.5 427.86V430.14M263.5 428.86V430.14M264.5 428.86V430.14M265.5 428.86V430.14M266.5 428.86V432.14M267.5 430.86V433.14M268.5 430.86V433.14M269.5 430.86V432.14M270.5 429.86V432.14M271.5 431.86V433.14M272.5 430.86V433.14M273.5 432.86V435.14M274.5 431.86V433.14M275.5 432.86V434.14M276.5 431.86V434.14M277.5 432.86V434.14M278.5 432.86V434.14M279.5 432.86V435.14M280.5 433.86V435.14M281.5 433.86V435.14M282.5 433.86V435.14M283.5 433.86V435.14M284.5 434.86V436.14M285.5 434.86V436.14M286.5 434.86V437.14M287.5 435.86V438.14M288.5 435.86V438.14M289.5 435.86V437.14M290.5 435.86V438.14M291.5 434.86V436.14M292.5 435.86V437.14M293.5 435.86V437.14M294.5 436.86V438.14M295.5 435.86V438.14M296.5 436.86V439.14M297.5 436.86V438.14M298.5 437.86V439.14M299.5 436.86V438.14M300.5 436.86V439.14M301.5 437.86V440.14M302.5 438.86V440.14M303.5 437.86V440.14M304.5 438.86V440.14M305.5 438.86V440.14M306.5 438.86V440.14M307.5 437.86V439.14M308.5 438.86V440.14M309.5 438.86V440.14M310.5 439.86V441.14M311.5 439.86V441.14M312.5 439.86V441.14M313.5 440.86V442.14M314.5 439.86V441.14M315.5 440.86V442.14M316.5 440.86V443.14M317.5 441.86V443.14M318.5 439.86V442.14M319.5 440.86V442.14M320.5 440.86V442.14M321.5 440.86V443.14M322.5 441.86V443.14M323.5 439.86V442.14M324.5 441.86V443.14M325.5 441.86V443.14M326.5 440.86V443.14M327.5 440.86V442.14M328.5 441.86V443.14M329.5 439.86V442.14M330.5 437.86V440.14M331.5 434.86V441.14M332.5 430.86V437.14M333.5 435.86V448.14M334.5 434.86V448.14M335.5 423.86V440.14M336.5 433.86V442.14M337.5 428.86V447.14M338.5 439.86V454.14M339.5 440.86V446.14M340.5 441.86V444.14M341.5 440.86V443.14M342.5 440.86V443.14M343.5 440.86V442.14M344.5 441.86V444.14M345.5 441.86V444.14M346.5 442.86V445.14M347.5 443.86V445.14M348.5 443.86V445.14M349.5 442.86V445.14M350.5 444.86V446.14M351.5 445.86V447.14M352.5 444.86V447.14M353.5 445.86V448.14M354.5 445.86V448.14M355.5 445.86V447.14M356.5 445.86V447.14M357.5 446.86V448.14M358.5 444.86V447.14M359.5 444.86V446.14M360.5 444.86V447.14M361.5 445.86V447.14M362.5 444.86V447.14M363.5 445.86V447.14M364.5 445.86V448.14M365.5 444.86V447.14M366.5 445.86V447.14M367.5 445.86V449.14M368.5 447.86V450.14M369.5 448.86V450.14M370.5 449.86V451.14M371.5 448.86V451.14M372.5 449.86V452.14M373.5 449.86V451.14M374.5 448.86V450.14M375.5 449.86V451.14M376.5 449.86V452.14M377.5 449.86V451.14M378.5 448.86V451.14M379.5 449.86V451.14M380.5 449.86V451.14M381.5 450.86V452.14M382.5 450.86V452.14M383.5 450.86V452.14M384.5 451.86V453.14M385.5 450.86V453.14M386.5 451.86V454.14M387.5 452.86V454.14M388.5 453.86V455.14M389.5 453.86V456.14M390.5 454.86V456.14M391.5 454.86V457.14M392.5 454.86V456.14M393.5 454.86V457.14M394.5 454.86V456.14M395.5 453.86V457.14M396.5 455.86V459.14M397.5 456.86V458.14M398.5 457.86V459.14M399.5 457.86V460.14M400.5 458.86V460.14M401.5 457.86V459.14M402.5 458.86V460.14M403.5 458.86V461.14M404.5 459.86V461.14M405.5 460.86V462.14M406.5 461.86V463.14M407.5 462.86V464.14M408.5 462.86V464.14M409.5 461.86V463.14M410.5 460.86V462.14M411.5 460.86V462.14M412.5 460.86V462.14M413.5 461.86V463.14M414.5 461.86V463.14M415.5 461.86V464.14M416.5 462.86V464.14M417.5 463.86V465.14M418.5 463.86V465.14M419.5 463.86V466.14M420.5 465.86V467.14M421.5 465.86V467.14M422.5 466.86V468.14M423.5 466.86V468.14M424.5 466.86V468.14M425.5 466.86V468.14M426.5 464.86V467.14M427.5 463.86V465.14M428.5 463.86V466.14M429.5 462.86V464.14M430.5 461.86V464.14M431.5 460.86V464.14M432.5 457.86V462.14M433.5 454.86V458.14M434.5 450.86V455.14M435.5 447.86V452.14M436.5 445.86V449.14M437.5 443.86V446.14M438.5 442.86V445.14M439.5 443.86V446.14M440.5 444.86V449.14M441.5 448.86V452.14M442.5 451.86V455.14M443.5 454.86V457.14M444.5 456.86V460.14M445.5 459.86V464.14M446.5 462.86V468.14M447.5 466.86V474.14M448.5 473.86V483.14M449.5 481.86V490.14M450.5 488.86V493.14M451.5 484.86V491.14M452.5 475.86V485.14M453.5 470.86V476.14M454.5 467.86V471.14M455.5 466.86V469.14M456.5 466.86V468.14M457.5 465.86V467.14M458.5 465.86V468.14M459.5 463.86V467.14M460.5 461.86V464.14M461.5 460.86V463.14M462.5 459.86V461.14M463.5 458.86V460.14M464.5 458.86V460.14M465.5 459.86V462.14M466.5 458.86V462.14M467.5 457.86V460.14M468.5 456.86V459.14M469.5 453.86V457.14M470.5 449.86V455.14M471.5 439.86V450.14M472.5 426.86V441.14M473.5 411.86V428.14M474.5 397.86V413.14M475.5 376.86V398.14M476.5 352.86V378.14M477.5 333.86V354.14M478.5 322.86V334.14M479.5 317.86V323.14M480.5 315.86V318.14M481.5 310.86V317.14M482.5 302.86V311.14M483.5 297.86V303.14M484.5 294.86V298.14M485.5 293.86V297.14M486.5 295.86V304.14M487.5 303.86V313.14M488.5 311.86V321.14M489.5 316.86V324.14M490.5 323.86V329.14M491.5 328.86V334.14M492.5 330.86V335.14M493.5 330.86V334.14M494.5 330.86V336.14M495.5 329.86V335.14M496.5 327.86V333.14M497.5 324.86V332.14M498.5 310.86V326.14M499.5 297.86V312.14M500.5 288.86V299.14M501.5 276.86V289.14M502.5 263.86V277.14M503.5 252.86V264.14M504.5 244.86V253.14M505.5 240.86V246.14M506.5 242.86V246.14M507.5 244.86V249.14M508.5 247.86V257.14M509.5 255.86V263.14M510.5 262.86V280.14M511.5 278.86V302.14M512.5 291.86V297.14M513.5 281.86V300.14M514.5 296.86V316.14M515.5 292.86V315.14M516.5 286.86V302.14M517.5 292.86V306.14M518.5 290.86V301.14M519.5 278.86V304.14M520.5 277.86V297.14M521.5 278.86V285.14M522.5 271.86V289.14M523.5 288.86V301.14M524.5 300.86V312.14M525.5 304.86V308.14M526.5 296.86V312.14"/>
</g>
<g>
<rect x="501.20" y="355.50" width="2.80" height="509.20" fill="#000"/>
<rect x="501.20" y="864.70" width="2.80" height="501.30" fill="#000" fill-opacity="0.3"/>
<rect x="504.20" y="862.30" width="2.70" height="503.70" fill="#000"/>
<rect x="1201.60" y="355.50" width="2.20" height="503.50" fill="#000" fill-opacity="0.3"/>
<rect x="1203.80" y="355.50" width="2.90" height="1007.50" fill="#000"/>
<rect x="1318.30" y="279.50" width="5.50" height="543.00" fill="#000" fill-opacity="0.58"/>
<rect x="1318.40" y="822.00" width="2.80" height="544.00" fill="#000"/>
<rect x="1334.90" y="197.50" width="2.70" height="1168.50" fill="#000"/>
<rect x="1332.20" y="813.00" width="2.80" height="553.00" fill="#000" fill-opacity="0.3"/>
<rect x="1383.90" y="92.00" width="2.80" height="1271.00" fill="#000"/>
<rect x="1386.70" y="92.00" width="2.00" height="608.00" fill="#000" fill-opacity="0.2"/>
<rect x="1400.20" y="154.50" width="2.70" height="605.50" fill="#000"/>
<rect x="1397.60" y="759.00" width="5.20" height="607.00" fill="#000" fill-opacity="0.58"/>
<rect x="1430.30" y="301.00" width="2.80" height="1065.00" fill="#000"/>
<rect x="1547.10" y="438.00" width="2.75" height="862.00" fill="#000"/>
</g>
<polygon points="1538.3,1286.3 1561,1286.3 1549.7,1332.6 1547.3,1332.6" fill="#000"/>
<g fill="#000">
<rect x="272.3" y="206" width="2.8" height="1187" fill="#d9d9d9"/>
<rect x="275.0" y="200.4" width="3.1" height="1192.4"/>
<rect x="278.1" y="203.2" width="2.7" height="1189.6" fill="#a4a4a4"/>
<rect x="264.1" y="1365.8" width="1184.9" height="5.4"/>
<rect x="253.4" y="200.60" width="22" height="2.8" fill="#5e5e5e"/>
<rect x="253.4" y="203.25" width="22" height="2.8"/>
<rect x="253.4" y="380.40" width="22" height="2.8" fill="#000"/>
<rect x="253.4" y="383.05" width="22" height="2.8"/>
<rect x="253.4" y="559.90" width="22" height="2.8" fill="#000"/>
<rect x="253.4" y="562.55" width="22" height="2.8"/>
<rect x="253.4" y="739.90" width="22" height="2.8" fill="#000"/>
<rect x="253.4" y="742.55" width="22" height="2.8"/>
<rect x="253.4" y="919.40" width="22" height="2.8" fill="#5e5e5e"/>
<rect x="253.4" y="922.05" width="22" height="2.8"/>
<rect x="253.4" y="1098.50" width="22" height="2.8" fill="#5e5e5e"/>
<rect x="253.4" y="1101.15" width="22" height="2.8"/>
<rect x="253.4" y="1276.30" width="22" height="2.8" fill="#000"/>
<rect x="253.4" y="1278.95" width="22" height="2.8"/>
<rect x="264.2" y="290.70" width="11" height="2.7" fill="#000"/>
<rect x="264.2" y="293.30" width="11" height="2.7"/>
<rect x="264.2" y="470.30" width="11" height="2.7" fill="#000"/>
<rect x="264.2" y="472.90" width="11" height="2.7"/>
<rect x="264.2" y="650.10" width="11" height="2.7" fill="#000"/>
<rect x="264.2" y="652.70" width="11" height="2.7"/>
<rect x="264.2" y="829.70" width="11" height="2.7" fill="#5e5e5e"/>
<rect x="264.2" y="832.30" width="11" height="2.7"/>
<rect x="264.2" y="1008.70" width="11" height="2.7" fill="#5e5e5e"/>
<rect x="264.2" y="1011.30" width="11" height="2.7"/>
<rect x="264.2" y="1188.90" width="11" height="2.7" fill="#5e5e5e"/>
<rect x="264.2" y="1191.50" width="11" height="2.7"/>
<rect x="468.70" y="1368" width="5.4" height="24.7"/>
<rect x="665.00" y="1368" width="5.4" height="24.7"/>
<rect x="858.00" y="1368" width="5.4" height="24.7"/>
<rect x="1054.30" y="1368" width="5.4" height="24.7"/>
<rect x="1250.40" y="1368" width="5.4" height="24.7"/>
<rect x="1443.90" y="1368" width="5.4" height="24.7"/>
<rect x="370.50" y="1368" width="5.4" height="13.9"/>
<rect x="566.70" y="1368" width="5.4" height="13.9"/>
<rect x="760.40" y="1368" width="5.4" height="13.9"/>
<rect x="956.20" y="1368" width="5.4" height="13.9"/>
<rect x="1152.30" y="1368" width="5.4" height="13.9"/>
<rect x="1348.30" y="1368" width="5.4" height="13.9"/>
</g>
<text x="154.78" y="219.97" font-size="63.46" textLength="77.17" lengthAdjust="spacingAndGlyphs">0.1</text>
<text x="154.57" y="399.16" font-size="64.17" textLength="84.31" lengthAdjust="spacingAndGlyphs">0.0</text>
<text x="133.84" y="578.55" font-size="64.73" textLength="98.21" lengthAdjust="spacingAndGlyphs">-0.1</text>
<text x="133.62" y="758.54" font-size="65.72" textLength="106.52" lengthAdjust="spacingAndGlyphs">-0.2</text>
<text x="133.63" y="938.15" font-size="65.16" textLength="106.03" lengthAdjust="spacingAndGlyphs">-0.3</text>
<text x="133.65" y="1115.57" font-size="62.76" textLength="105.48" lengthAdjust="spacingAndGlyphs">-0.4</text>
<text x="133.62" y="1295.27" font-size="63.18" textLength="106.29" lengthAdjust="spacingAndGlyphs">-0.5</text>
<text x="207.22" y="1452.67" font-size="62.61" textLength="136.82" lengthAdjust="spacingAndGlyphs">4000</text>
<text x="403.73" y="1452.67" font-size="62.61" textLength="134.88" lengthAdjust="spacingAndGlyphs">3500</text>
<text x="599.21" y="1452.67" font-size="62.61" textLength="135.71" lengthAdjust="spacingAndGlyphs">3000</text>
<text x="792.72" y="1452.67" font-size="62.61" textLength="137.02" lengthAdjust="spacingAndGlyphs">2500</text>
<text x="986.59" y="1452.67" font-size="62.61" textLength="138.27" lengthAdjust="spacingAndGlyphs">2000</text>
<text x="1185.78" y="1452.67" font-size="62.61" textLength="134.22" lengthAdjust="spacingAndGlyphs">1500</text>
<text x="1380.16" y="1452.67" font-size="62.61" textLength="134.54" lengthAdjust="spacingAndGlyphs">1000</text>
<text x="442.50" y="330.25" font-size="60.14" class="b" textLength="128.85" lengthAdjust="spacingAndGlyphs">3400</text>
<text x="1129.25" y="343.59" font-size="60.64" class="b" textLength="129.82" lengthAdjust="spacingAndGlyphs">1616</text>
<text x="1192.94" y="261.26" font-size="59.44" class="b" textLength="130.12" lengthAdjust="spacingAndGlyphs">1330</text>
<text x="1237.79" y="162.00" font-size="60.49" class="b" textLength="128.65" lengthAdjust="spacingAndGlyphs">1290</text>
<text x="1335.17" y="67.00" font-size="59.64" class="b" textLength="129.55" lengthAdjust="spacingAndGlyphs">1154</text>
<text x="1393.47" y="149.80" font-size="59.93" class="b" textLength="129.55" lengthAdjust="spacingAndGlyphs">1124</text>
<text x="1415.29" y="275.74" font-size="60.56" class="b" textLength="128.65" lengthAdjust="spacingAndGlyphs">1030</text>
<text x="1481.34" y="409.39" font-size="60.82" class="b" textLength="152.36" lengthAdjust="spacingAndGlyphs">Time</text>
<text transform="translate(0 1030.50) rotate(-90)" x="-2.37" y="1626.37" font-size="62.86" class="b" textLength="267.85" lengthAdjust="spacingAndGlyphs"><tspan font-weight="400" font-size="54">Δ</tspan>t= 5 min</text>
<text transform="translate(0 1062.90) rotate(-90)" x="-2.06" y="92.39" font-size="69.77" class="b" textLength="542.77" lengthAdjust="spacingAndGlyphs">absorbance, a.u.</text>
<text x="546.17" y="1576.56" font-size="64.77" class="b" textLength="536.65" lengthAdjust="spacingAndGlyphs">wavenumber, cm</text>
<text x="1085.23" y="1539.30" font-size="40.73" class="b" textLength="30.36" lengthAdjust="spacingAndGlyphs">-1</text>
</g>
<text x="815.86" y="1826.40" font-size="83.75" class="ser par" textLength="23.25" lengthAdjust="spacingAndGlyphs">(</text>
<text x="841.66" y="1826.15" font-size="85.00" class="ser b" textLength="40.55" lengthAdjust="spacingAndGlyphs">a</text>
<text x="883.47" y="1826.40" font-size="83.75" class="ser par" textLength="23.92" lengthAdjust="spacingAndGlyphs">)</text>
</svg></body></html>
